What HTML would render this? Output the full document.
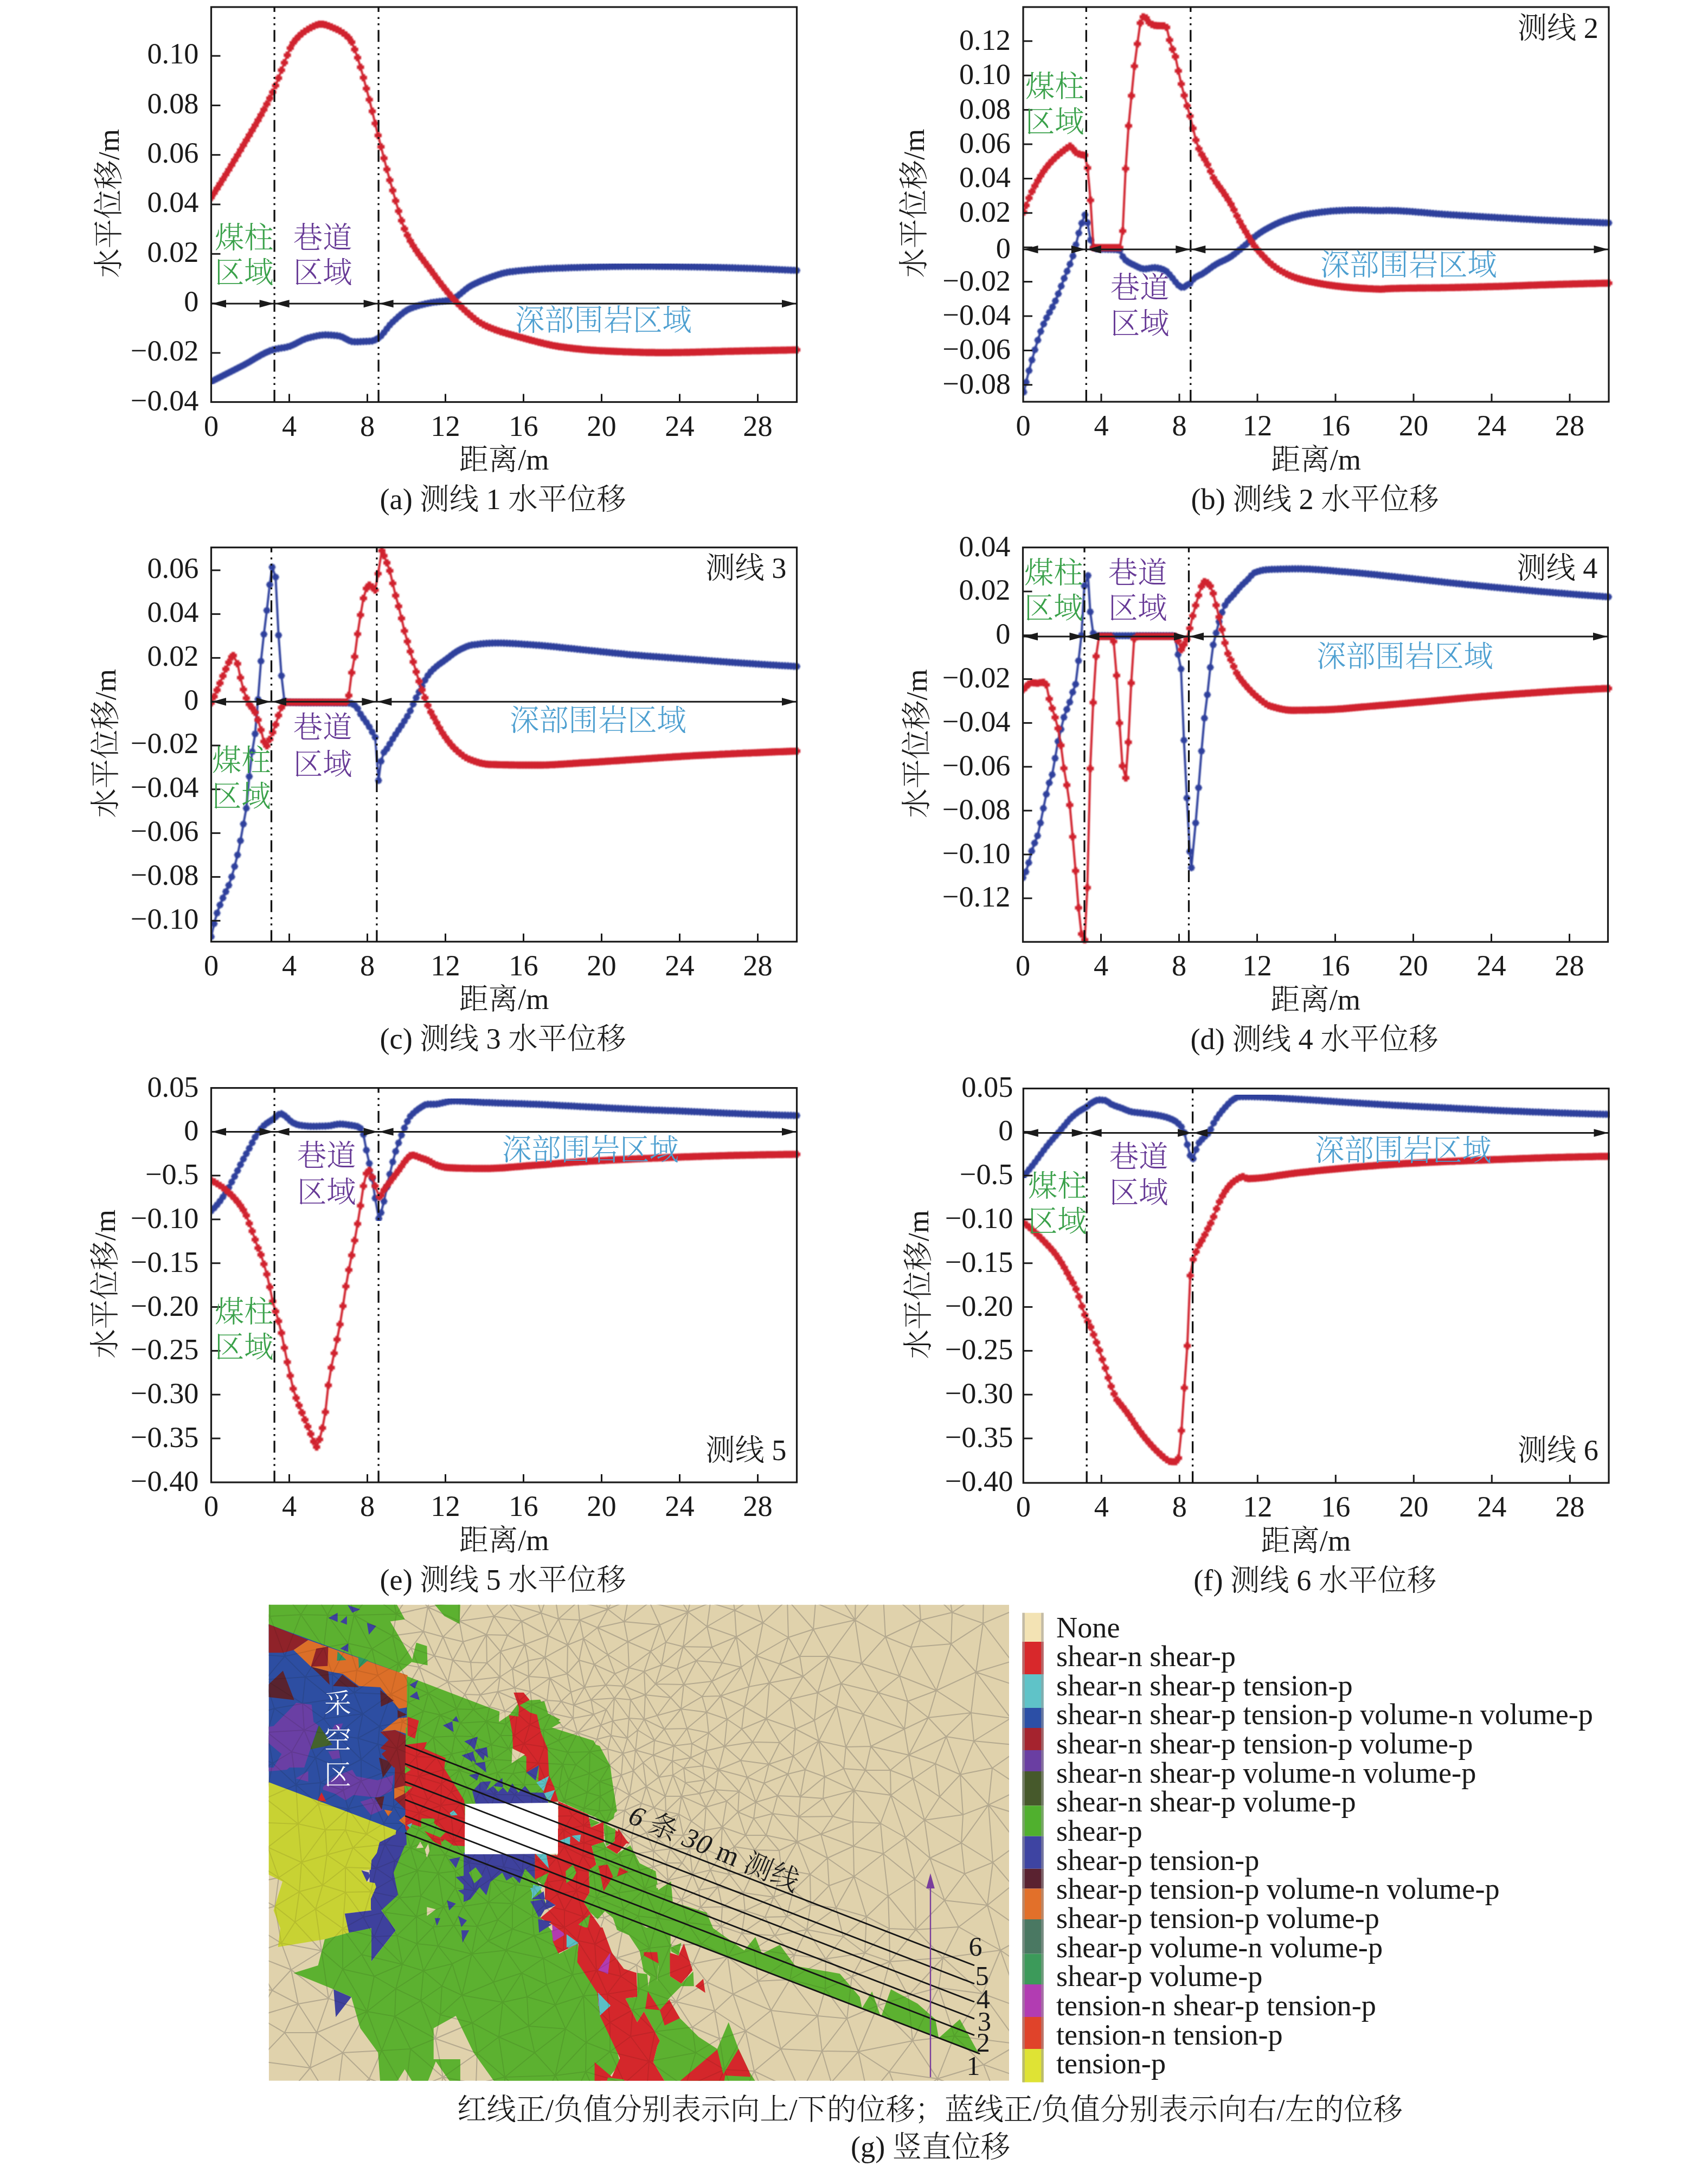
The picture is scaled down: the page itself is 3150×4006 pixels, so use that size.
<!DOCTYPE html>
<html lang="zh"><head><meta charset="utf-8"><title>figure</title>
<style>
html,body{margin:0;padding:0;background:#fff}
svg{display:block}
text{font-family:"Liberation Serif","Noto Serif CJK SC",serif;font-weight:300}
</style></head><body>
<svg width="3150" height="4006" viewBox="0 0 3150 4006">
<defs>
<marker id="mr" markerWidth="14" markerHeight="14" refX="7" refY="7" markerUnits="userSpaceOnUse" orient="0">
<path d="M7 0.4V13.6M0.4 7H13.6" stroke="#d0232e" stroke-width="6.4" fill="none"/></marker>
<marker id="mb" markerWidth="14" markerHeight="14" refX="7" refY="7" markerUnits="userSpaceOnUse" orient="0">
<path d="M7 0.4V13.6M0.6 7H13.4M2.6 2.6L11.4 11.4M11.4 2.6L2.6 11.4" stroke="#2f409c" stroke-width="3.6" fill="none"/></marker>
<filter id="bl" x="-2%" y="-2%" width="104%" height="104%"><feGaussianBlur stdDeviation="0.9"/></filter>
</defs>
<rect width="3150" height="4006" fill="#fff"/>

<clipPath id="cpa"><rect x="390.0" y="4.0" width="1091.0" height="746.5"/></clipPath>
<g clip-path="url(#cpa)">
<polyline points="389.5,703.8 394.9,701.1 400.3,698.4 405.7,695.6 411.1,692.9 416.5,690.1 421.9,687.4 427.3,684.7 432.7,681.9 438.1,679.2 443.5,676.4 448.9,673.6 454.3,670.7 459.7,667.6 465.1,664.4 470.5,661.2 475.9,658.0 481.3,654.9 486.7,652.1 492.1,649.5 497.5,647.2 502.9,645.3 508.3,643.8 513.7,642.8 519.1,641.9 524.5,641.1 529.9,639.9 535.3,638.3 540.7,636.0 546.1,633.3 551.5,630.5 556.9,627.7 562.3,625.3 567.7,623.5 573.1,622.1 578.5,620.8 583.9,619.7 589.3,618.7 594.7,618.0 600.1,617.7 605.5,617.8 610.9,618.1 616.3,618.6 621.7,619.2 627.1,620.1 632.5,622.2 637.9,625.0 643.3,627.8 648.7,629.8 654.1,630.3 659.5,630.3 664.9,630.1 670.3,629.9 675.7,629.7 681.1,629.3 686.5,628.8 691.9,626.9 697.3,623.8 702.7,619.6 708.1,613.4 713.5,606.3 718.9,599.5 724.3,593.9 729.7,588.9 735.1,583.9 740.5,579.3 745.9,575.1 751.3,571.7 756.7,569.0 762.1,566.9 767.5,565.1 772.9,563.4 778.3,562.0 783.7,560.7 789.1,559.5 794.5,558.4 799.9,557.5 805.3,556.8 810.7,556.2 816.1,555.6 821.5,554.8 826.9,553.9 832.3,552.6 837.7,550.1 843.1,546.6 848.5,542.3 853.9,537.8 859.3,533.3 864.7,529.4 870.1,526.2 875.5,523.4 880.9,520.8 886.3,518.4 891.7,516.2 897.1,514.2 902.5,512.2 907.9,510.2 913.3,508.3 918.7,506.5 924.1,504.9 929.5,503.5 934.9,502.3 940.3,501.4 945.7,500.8 951.1,500.1 956.5,499.5 961.9,499.0 967.3,498.5 972.7,498.0 978.1,497.5 983.5,497.1 988.9,496.7 994.3,496.3 999.7,496.0 1005.1,495.7 1010.5,495.4 1015.9,495.1 1021.3,494.9 1026.7,494.7 1032.1,494.5 1037.5,494.3 1042.9,494.1 1048.3,493.9 1053.7,493.7 1059.1,493.5 1064.5,493.3 1069.9,493.1 1075.3,492.9 1080.7,492.8 1086.1,492.6 1091.5,492.4 1096.9,492.3 1102.3,492.1 1107.7,492.0 1113.1,491.9 1118.5,491.8 1123.9,491.6 1129.3,491.5 1134.7,491.4 1140.1,491.4 1145.5,491.3 1150.9,491.2 1156.3,491.2 1161.7,491.1 1167.1,491.1 1172.5,491.1 1177.9,491.1 1183.3,491.1 1188.7,491.1 1194.1,491.2 1199.5,491.2 1204.9,491.2 1210.3,491.3 1215.7,491.3 1221.1,491.4 1226.5,491.5 1231.9,491.5 1237.3,491.6 1242.7,491.7 1248.1,491.7 1253.5,491.8 1258.9,491.9 1264.3,492.0 1269.7,492.1 1275.1,492.1 1280.5,492.2 1285.9,492.3 1291.3,492.4 1296.7,492.5 1302.1,492.6 1307.5,492.8 1312.9,492.9 1318.3,493.0 1323.7,493.2 1329.1,493.3 1334.5,493.5 1339.9,493.6 1345.3,493.8 1350.7,493.9 1356.1,494.1 1361.5,494.3 1366.9,494.5 1372.3,494.6 1377.7,494.8 1383.1,495.0 1388.5,495.2 1393.9,495.4 1399.3,495.7 1404.7,495.9 1410.1,496.1 1415.5,496.3 1420.9,496.5 1426.3,496.8 1431.7,497.0 1437.1,497.3 1442.5,497.5 1447.9,497.8 1453.3,498.0 1458.7,498.3 1464.1,498.5 1469.5,498.8" fill="none" stroke="#2f409c" stroke-width="4" stroke-linejoin="round" filter="url(#bl)" marker-start="url(#mb)" marker-mid="url(#mb)" marker-end="url(#mb)"/>
<polyline points="389.5,364.3 394.9,356.1 400.3,347.7 405.7,339.2 411.1,330.6 416.5,321.9 421.9,313.1 427.3,304.2 432.7,295.2 438.1,286.2 443.5,277.0 448.9,267.7 454.3,258.6 459.7,249.5 465.1,240.3 470.5,231.1 475.9,221.7 481.3,212.1 486.7,202.2 492.1,191.9 497.5,181.2 502.9,169.9 508.3,157.9 513.7,144.0 519.1,129.4 524.5,115.6 529.9,101.7 535.3,88.6 540.7,79.1 546.1,72.3 551.5,66.6 556.9,61.7 562.3,57.6 567.7,54.2 573.1,51.2 578.5,48.3 583.9,46.0 589.3,44.7 594.7,44.7 600.1,45.7 605.5,47.5 610.9,49.7 616.3,52.0 621.7,54.4 627.1,57.2 632.5,60.6 637.9,64.8 643.3,70.0 648.7,77.7 654.1,91.2 659.5,106.4 664.9,124.0 670.3,143.3 675.7,163.4 681.1,183.8 686.5,205.2 691.9,227.6 697.3,249.7 702.7,270.8 708.1,291.8 713.5,312.4 718.9,332.3 724.3,351.3 729.7,370.5 735.1,389.4 740.5,406.9 745.9,422.0 751.3,433.9 756.7,444.2 762.1,453.4 767.5,461.8 772.9,469.5 778.3,476.8 783.7,483.9 789.1,491.0 794.5,498.2 799.9,505.6 805.3,512.9 810.7,520.1 816.1,527.1 821.5,533.9 826.9,540.5 832.3,546.9 837.7,552.9 843.1,558.6 848.5,563.9 853.9,569.1 859.3,574.1 864.7,579.0 870.1,583.7 875.5,588.1 880.9,592.1 886.3,595.7 891.7,598.8 897.1,601.4 902.5,603.8 907.9,606.0 913.3,608.1 918.7,610.0 924.1,611.8 929.5,613.5 934.9,615.2 940.3,616.7 945.7,618.2 951.1,619.7 956.5,621.2 961.9,622.6 967.3,624.1 972.7,625.6 978.1,627.1 983.5,628.5 988.9,630.0 994.3,631.4 999.7,632.7 1005.1,634.0 1010.5,635.2 1015.9,636.4 1021.3,637.5 1026.7,638.4 1032.1,639.3 1037.5,640.0 1042.9,640.8 1048.3,641.5 1053.7,642.1 1059.1,642.8 1064.5,643.4 1069.9,643.9 1075.3,644.5 1080.7,645.0 1086.1,645.4 1091.5,645.8 1096.9,646.2 1102.3,646.5 1107.7,646.8 1113.1,647.0 1118.5,647.3 1123.9,647.6 1129.3,647.8 1134.7,648.1 1140.1,648.3 1145.5,648.5 1150.9,648.8 1156.3,649.0 1161.7,649.2 1167.1,649.4 1172.5,649.5 1177.9,649.7 1183.3,649.8 1188.7,650.0 1194.1,650.1 1199.5,650.2 1204.9,650.2 1210.3,650.3 1215.7,650.3 1221.1,650.4 1226.5,650.3 1231.9,650.3 1237.3,650.3 1242.7,650.2 1248.1,650.2 1253.5,650.1 1258.9,650.0 1264.3,649.9 1269.7,649.8 1275.1,649.7 1280.5,649.6 1285.9,649.4 1291.3,649.3 1296.7,649.2 1302.1,649.0 1307.5,648.9 1312.9,648.8 1318.3,648.6 1323.7,648.5 1329.1,648.3 1334.5,648.2 1339.9,648.0 1345.3,647.9 1350.7,647.8 1356.1,647.7 1361.5,647.6 1366.9,647.4 1372.3,647.3 1377.7,647.2 1383.1,647.1 1388.5,647.0 1393.9,646.9 1399.3,646.8 1404.7,646.7 1410.1,646.6 1415.5,646.4 1420.9,646.3 1426.3,646.2 1431.7,646.1 1437.1,646.0 1442.5,645.9 1447.9,645.8 1453.3,645.6 1458.7,645.5 1464.1,645.4 1469.5,645.3" fill="none" stroke="#d0232e" stroke-width="4" stroke-linejoin="round" filter="url(#bl)" marker-start="url(#mr)" marker-mid="url(#mr)" marker-end="url(#mr)"/>
</g>
<rect x="389.5" y="13.0" width="1080.0" height="728.5" fill="none" stroke="#1a1a1a" stroke-width="3.2"/>
<line x1="389.5" y1="103.1" x2="406.5" y2="103.1" stroke="#1a1a1a" stroke-width="3"/>
<text x="366.5" y="117.4" font-size="54.3" fill="#1a1a1a" text-anchor="end" >0.10</text>
<line x1="389.5" y1="194.4" x2="406.5" y2="194.4" stroke="#1a1a1a" stroke-width="3"/>
<text x="366.5" y="208.7" font-size="54.3" fill="#1a1a1a" text-anchor="end" >0.08</text>
<line x1="389.5" y1="285.7" x2="406.5" y2="285.7" stroke="#1a1a1a" stroke-width="3"/>
<text x="366.5" y="300.0" font-size="54.3" fill="#1a1a1a" text-anchor="end" >0.06</text>
<line x1="389.5" y1="377.0" x2="406.5" y2="377.0" stroke="#1a1a1a" stroke-width="3"/>
<text x="366.5" y="391.3" font-size="54.3" fill="#1a1a1a" text-anchor="end" >0.04</text>
<line x1="389.5" y1="468.3" x2="406.5" y2="468.3" stroke="#1a1a1a" stroke-width="3"/>
<text x="366.5" y="482.6" font-size="54.3" fill="#1a1a1a" text-anchor="end" >0.02</text>
<line x1="389.5" y1="559.6" x2="406.5" y2="559.6" stroke="#1a1a1a" stroke-width="3"/>
<text x="366.5" y="573.9" font-size="54.3" fill="#1a1a1a" text-anchor="end" >0</text>
<line x1="389.5" y1="650.9" x2="406.5" y2="650.9" stroke="#1a1a1a" stroke-width="3"/>
<text x="366.5" y="665.2" font-size="54.3" fill="#1a1a1a" text-anchor="end" >−0.02</text>
<text x="366.5" y="756.5" font-size="54.3" fill="#1a1a1a" text-anchor="end" >−0.04</text>
<text x="389.5" y="803.5" font-size="54.3" fill="#1a1a1a" text-anchor="middle" >0</text>
<line x1="533.5" y1="741.5" x2="533.5" y2="726.5" stroke="#1a1a1a" stroke-width="3"/>
<text x="533.5" y="803.5" font-size="54.3" fill="#1a1a1a" text-anchor="middle" >4</text>
<line x1="677.5" y1="741.5" x2="677.5" y2="726.5" stroke="#1a1a1a" stroke-width="3"/>
<text x="677.5" y="803.5" font-size="54.3" fill="#1a1a1a" text-anchor="middle" >8</text>
<line x1="821.5" y1="741.5" x2="821.5" y2="726.5" stroke="#1a1a1a" stroke-width="3"/>
<text x="821.5" y="803.5" font-size="54.3" fill="#1a1a1a" text-anchor="middle" >12</text>
<line x1="965.5" y1="741.5" x2="965.5" y2="726.5" stroke="#1a1a1a" stroke-width="3"/>
<text x="965.5" y="803.5" font-size="54.3" fill="#1a1a1a" text-anchor="middle" >16</text>
<line x1="1109.5" y1="741.5" x2="1109.5" y2="726.5" stroke="#1a1a1a" stroke-width="3"/>
<text x="1109.5" y="803.5" font-size="54.3" fill="#1a1a1a" text-anchor="middle" >20</text>
<line x1="1253.5" y1="741.5" x2="1253.5" y2="726.5" stroke="#1a1a1a" stroke-width="3"/>
<text x="1253.5" y="803.5" font-size="54.3" fill="#1a1a1a" text-anchor="middle" >24</text>
<line x1="1397.5" y1="741.5" x2="1397.5" y2="726.5" stroke="#1a1a1a" stroke-width="3"/>
<text x="1397.5" y="803.5" font-size="54.3" fill="#1a1a1a" text-anchor="middle" >28</text>
<line x1="506.1" y1="13.0" x2="506.1" y2="741.5" stroke="#111" stroke-width="3.3" stroke-dasharray="22 9.5 3.5 8 3.5 8.8" stroke-dashoffset="13"/>
<line x1="698.1" y1="13.0" x2="698.1" y2="741.5" stroke="#111" stroke-width="3.3" stroke-dasharray="22 9.5 3.5 8 3.5 8.8" stroke-dashoffset="13"/>
<line x1="389.5" y1="560.1" x2="1469.5" y2="560.1" stroke="#1a1a1a" stroke-width="3"/>
<path d="M390.5 560.1 L417.0 552.9 L417.0 567.3 Z" fill="#1a1a1a"/>
<path d="M505.1 560.1 L478.6 552.9 L478.6 567.3 Z" fill="#1a1a1a"/>
<path d="M507.1 560.1 L533.6 552.9 L533.6 567.3 Z" fill="#1a1a1a"/>
<path d="M697.1 560.1 L670.6 552.9 L670.6 567.3 Z" fill="#1a1a1a"/>
<path d="M699.1 560.1 L725.6 552.9 L725.6 567.3 Z" fill="#1a1a1a"/>
<path d="M1468.5 560.1 L1442.0 552.9 L1442.0 567.3 Z" fill="#1a1a1a"/>
<text x="929.5" y="866.0" font-size="54.3" fill="#1a1a1a" text-anchor="middle" >距离/m</text>
<text x="927.5" y="939.0" font-size="54.3" fill="#1a1a1a" text-anchor="middle" >(a) 测线 1 水平位移</text>
<text transform="translate(218.5,375.2) rotate(-90)" font-size="54.3" fill="#1a1a1a" text-anchor="middle">水平位移/m</text>
<text x="396.0" y="457.0" font-size="54.3" fill="#3aa14a" text-anchor="start" >煤柱</text>
<text x="396.0" y="521.0" font-size="54.3" fill="#3aa14a" text-anchor="start" >区域</text>
<text x="541.0" y="457.0" font-size="54.3" fill="#673a96" text-anchor="start" >巷道</text>
<text x="541.0" y="521.0" font-size="54.3" fill="#673a96" text-anchor="start" >区域</text>
<text x="950.0" y="609.0" font-size="54.3" fill="#4d9fd0" text-anchor="start" >深部围岩区域</text>
<clipPath id="cpb"><rect x="1887.5" y="4.0" width="1091.0" height="746.0"/></clipPath>
<g clip-path="url(#cpb)">
<polyline points="1888.1,723.2 1892.4,704.9 1897.8,683.6 1903.2,664.0 1908.6,645.2 1914.0,627.4 1919.4,611.3 1924.8,597.6 1930.2,586.2 1935.6,576.1 1941.0,566.2 1946.4,555.0 1951.8,541.9 1957.2,527.7 1962.6,513.4 1968.0,500.2 1973.4,487.2 1978.8,472.1 1984.2,451.5 1989.6,429.8 1995.0,411.7 2000.9,396.3 2005.8,410.9 2011.2,442.7 2016.6,456.4 2022.0,458.9 2027.4,459.3 2032.8,459.6 2038.2,459.7 2043.6,459.8 2049.0,459.9 2054.4,460.1 2059.8,460.5 2065.2,462.0 2070.6,473.2 2076.0,479.9 2081.4,483.7 2086.8,486.6 2092.2,489.2 2097.6,491.9 2103.0,494.4 2108.4,495.9 2113.8,495.8 2119.2,495.0 2124.6,494.0 2130.0,493.7 2135.4,494.3 2140.8,495.7 2146.2,497.6 2151.6,500.7 2157.0,506.5 2162.4,512.8 2167.8,519.8 2173.2,526.0 2178.6,529.7 2184.0,529.3 2189.4,525.6 2194.8,522.8 2200.2,515.6 2205.6,511.1 2211.0,508.2 2216.4,505.6 2221.8,502.2 2227.2,498.3 2232.6,494.3 2238.0,490.5 2243.4,487.1 2248.8,484.2 2254.2,481.7 2259.6,479.2 2265.0,476.4 2270.4,473.1 2275.8,469.1 2281.2,464.9 2286.6,460.5 2292.0,456.0 2297.4,451.3 2302.8,446.6 2308.2,441.8 2313.6,437.0 2319.0,432.8 2324.4,429.1 2329.8,425.7 2335.2,422.5 2340.6,419.5 2346.0,416.6 2351.4,413.9 2356.8,411.3 2362.2,409.0 2367.6,406.9 2373.0,405.0 2378.4,403.2 2383.8,401.5 2389.2,400.0 2394.6,398.5 2400.0,397.2 2405.4,396.0 2410.8,395.0 2416.2,394.1 2421.6,393.3 2427.0,392.6 2432.4,391.9 2437.8,391.2 2443.2,390.6 2448.6,390.0 2454.0,389.4 2459.4,389.0 2464.8,388.6 2470.2,388.3 2475.6,388.1 2481.0,387.9 2486.4,387.6 2491.8,387.5 2497.2,387.4 2502.6,387.4 2508.0,387.4 2513.4,387.6 2518.8,387.7 2524.2,387.9 2529.6,388.1 2535.0,388.3 2540.4,388.4 2545.8,388.5 2551.2,388.4 2556.6,388.1 2562.0,388.1 2567.4,388.3 2572.8,388.5 2578.2,388.7 2583.6,389.0 2589.0,389.3 2594.4,389.6 2599.8,390.0 2605.2,390.4 2610.6,390.8 2616.0,391.3 2621.4,391.7 2626.8,392.2 2632.2,392.7 2637.6,393.1 2643.0,393.6 2648.4,394.1 2653.8,394.5 2659.2,394.9 2664.6,395.3 2670.0,395.7 2675.4,396.1 2680.8,396.4 2686.2,396.7 2691.6,397.1 2697.0,397.4 2702.4,397.7 2707.8,398.1 2713.2,398.4 2718.6,398.7 2724.0,399.0 2729.4,399.4 2734.8,399.7 2740.2,400.0 2745.6,400.3 2751.0,400.6 2756.4,400.9 2761.8,401.3 2767.2,401.6 2772.6,401.9 2778.0,402.2 2783.4,402.5 2788.8,402.8 2794.2,403.1 2799.6,403.4 2805.0,403.8 2810.4,404.1 2815.8,404.4 2821.2,404.7 2826.6,405.0 2832.0,405.3 2837.4,405.6 2842.8,405.8 2848.2,406.1 2853.6,406.4 2859.0,406.6 2864.4,406.9 2869.8,407.2 2875.2,407.4 2880.6,407.6 2886.0,407.9 2891.4,408.1 2896.8,408.4 2902.2,408.6 2907.6,408.8 2913.0,409.1 2918.4,409.3 2923.8,409.5 2929.2,409.7 2934.6,409.9 2940.0,410.2 2945.4,410.4 2950.8,410.6 2956.2,410.8 2961.6,411.0 2967.0,411.1" fill="none" stroke="#2f409c" stroke-width="4" stroke-linejoin="round" filter="url(#bl)" marker-start="url(#mb)" marker-mid="url(#mb)" marker-end="url(#mb)"/>
<polyline points="1888.1,391.1 1892.4,378.9 1897.8,365.2 1903.2,353.3 1908.6,342.9 1914.0,333.2 1919.4,324.1 1924.8,315.7 1930.2,308.4 1935.6,301.9 1941.0,296.0 1946.4,290.6 1951.8,285.7 1957.2,281.2 1962.6,277.0 1968.0,272.6 1973.4,269.3 1978.8,274.5 1984.2,281.1 1989.6,283.8 1995.0,285.5 2000.4,286.3 2005.8,309.8 2011.2,369.4 2016.6,456.7 2022.0,456.7 2027.4,456.7 2032.8,456.7 2038.2,456.7 2043.6,456.7 2049.0,456.7 2054.4,456.7 2059.8,456.7 2065.2,456.7 2070.6,426.1 2076.0,311.1 2081.4,232.1 2086.8,176.5 2092.2,122.1 2097.6,81.0 2103.0,42.5 2108.4,31.2 2113.8,33.2 2119.2,41.5 2124.6,45.2 2130.0,46.9 2135.4,47.3 2140.8,47.5 2146.2,47.7 2151.6,50.5 2157.0,73.8 2162.4,90.8 2167.8,104.5 2173.2,130.8 2178.6,154.9 2184.0,176.0 2189.4,195.3 2194.8,214.1 2200.2,236.6 2205.6,258.4 2211.0,274.4 2216.4,285.0 2221.8,293.9 2227.2,303.6 2232.6,315.9 2238.0,328.1 2243.4,337.0 2248.8,344.4 2254.2,351.7 2259.6,359.7 2265.0,368.0 2270.4,376.8 2275.8,386.9 2281.2,398.1 2286.6,408.7 2292.0,418.3 2297.4,427.4 2302.8,436.3 2308.2,445.4 2313.6,453.7 2319.0,460.5 2324.4,466.6 2329.8,472.5 2335.2,478.2 2340.6,483.6 2346.0,488.2 2351.4,492.4 2356.8,496.1 2362.2,499.5 2367.6,502.5 2373.0,505.4 2378.4,507.9 2383.8,510.2 2389.2,512.1 2394.6,513.8 2400.0,515.4 2405.4,516.8 2410.8,518.1 2416.2,519.3 2421.6,520.5 2427.0,521.6 2432.4,522.6 2437.8,523.6 2443.2,524.5 2448.6,525.3 2454.0,526.1 2459.4,526.9 2464.8,527.6 2470.2,528.2 2475.6,528.8 2481.0,529.4 2486.4,529.9 2491.8,530.4 2497.2,530.8 2502.6,531.2 2508.0,531.6 2513.4,531.9 2518.8,532.2 2524.2,532.5 2529.6,532.7 2535.0,533.0 2540.4,533.1 2545.8,533.3 2551.2,533.1 2556.6,532.6 2562.0,532.4 2567.4,532.2 2572.8,532.0 2578.2,531.9 2583.6,531.7 2589.0,531.6 2594.4,531.5 2599.8,531.4 2605.2,531.4 2610.6,531.3 2616.0,531.2 2621.4,531.2 2626.8,531.1 2632.2,531.0 2637.6,531.0 2643.0,530.9 2648.4,530.9 2653.8,530.8 2659.2,530.7 2664.6,530.6 2670.0,530.5 2675.4,530.4 2680.8,530.3 2686.2,530.2 2691.6,530.1 2697.0,529.9 2702.4,529.8 2707.8,529.7 2713.2,529.6 2718.6,529.4 2724.0,529.3 2729.4,529.2 2734.8,529.0 2740.2,528.9 2745.6,528.7 2751.0,528.6 2756.4,528.4 2761.8,528.3 2767.2,528.1 2772.6,528.0 2778.0,527.8 2783.4,527.6 2788.8,527.4 2794.2,527.2 2799.6,527.0 2805.0,526.8 2810.4,526.6 2815.8,526.4 2821.2,526.2 2826.6,526.0 2832.0,525.8 2837.4,525.6 2842.8,525.4 2848.2,525.3 2853.6,525.1 2859.0,524.9 2864.4,524.8 2869.8,524.6 2875.2,524.4 2880.6,524.3 2886.0,524.1 2891.4,524.0 2896.8,523.9 2902.2,523.7 2907.6,523.6 2913.0,523.4 2918.4,523.3 2923.8,523.2 2929.2,523.0 2934.6,522.9 2940.0,522.8 2945.4,522.7 2950.8,522.5 2956.2,522.4 2961.6,522.3 2967.0,522.2" fill="none" stroke="#d0232e" stroke-width="4" stroke-linejoin="round" filter="url(#bl)" marker-start="url(#mr)" marker-mid="url(#mr)" marker-end="url(#mr)"/>
</g>
<rect x="1887.0" y="13.0" width="1080.0" height="728.0" fill="none" stroke="#1a1a1a" stroke-width="3.2"/>
<line x1="1887.0" y1="75.8" x2="1904.0" y2="75.8" stroke="#1a1a1a" stroke-width="3"/>
<text x="1864.0" y="91.8" font-size="54.3" fill="#1a1a1a" text-anchor="end" >0.12</text>
<line x1="1887.0" y1="139.2" x2="1904.0" y2="139.2" stroke="#1a1a1a" stroke-width="3"/>
<text x="1864.0" y="155.2" font-size="54.3" fill="#1a1a1a" text-anchor="end" >0.10</text>
<line x1="1887.0" y1="202.6" x2="1904.0" y2="202.6" stroke="#1a1a1a" stroke-width="3"/>
<text x="1864.0" y="218.6" font-size="54.3" fill="#1a1a1a" text-anchor="end" >0.08</text>
<line x1="1887.0" y1="266.0" x2="1904.0" y2="266.0" stroke="#1a1a1a" stroke-width="3"/>
<text x="1864.0" y="282.0" font-size="54.3" fill="#1a1a1a" text-anchor="end" >0.06</text>
<line x1="1887.0" y1="329.4" x2="1904.0" y2="329.4" stroke="#1a1a1a" stroke-width="3"/>
<text x="1864.0" y="345.4" font-size="54.3" fill="#1a1a1a" text-anchor="end" >0.04</text>
<line x1="1887.0" y1="392.8" x2="1904.0" y2="392.8" stroke="#1a1a1a" stroke-width="3"/>
<text x="1864.0" y="408.8" font-size="54.3" fill="#1a1a1a" text-anchor="end" >0.02</text>
<line x1="1887.0" y1="456.2" x2="1904.0" y2="456.2" stroke="#1a1a1a" stroke-width="3"/>
<text x="1864.0" y="476.0" font-size="54.3" fill="#1a1a1a" text-anchor="end" >0</text>
<line x1="1887.0" y1="519.6" x2="1904.0" y2="519.6" stroke="#1a1a1a" stroke-width="3"/>
<text x="1864.0" y="535.6" font-size="54.3" fill="#1a1a1a" text-anchor="end" >−0.02</text>
<line x1="1887.0" y1="583.0" x2="1904.0" y2="583.0" stroke="#1a1a1a" stroke-width="3"/>
<text x="1864.0" y="599.0" font-size="54.3" fill="#1a1a1a" text-anchor="end" >−0.04</text>
<line x1="1887.0" y1="646.4" x2="1904.0" y2="646.4" stroke="#1a1a1a" stroke-width="3"/>
<text x="1864.0" y="662.4" font-size="54.3" fill="#1a1a1a" text-anchor="end" >−0.06</text>
<line x1="1887.0" y1="709.8" x2="1904.0" y2="709.8" stroke="#1a1a1a" stroke-width="3"/>
<text x="1864.0" y="725.8" font-size="54.3" fill="#1a1a1a" text-anchor="end" >−0.08</text>
<text x="1887.0" y="803.0" font-size="54.3" fill="#1a1a1a" text-anchor="middle" >0</text>
<line x1="2031.0" y1="741.0" x2="2031.0" y2="726.0" stroke="#1a1a1a" stroke-width="3"/>
<text x="2031.0" y="803.0" font-size="54.3" fill="#1a1a1a" text-anchor="middle" >4</text>
<line x1="2175.0" y1="741.0" x2="2175.0" y2="726.0" stroke="#1a1a1a" stroke-width="3"/>
<text x="2175.0" y="803.0" font-size="54.3" fill="#1a1a1a" text-anchor="middle" >8</text>
<line x1="2319.0" y1="741.0" x2="2319.0" y2="726.0" stroke="#1a1a1a" stroke-width="3"/>
<text x="2319.0" y="803.0" font-size="54.3" fill="#1a1a1a" text-anchor="middle" >12</text>
<line x1="2463.0" y1="741.0" x2="2463.0" y2="726.0" stroke="#1a1a1a" stroke-width="3"/>
<text x="2463.0" y="803.0" font-size="54.3" fill="#1a1a1a" text-anchor="middle" >16</text>
<line x1="2607.0" y1="741.0" x2="2607.0" y2="726.0" stroke="#1a1a1a" stroke-width="3"/>
<text x="2607.0" y="803.0" font-size="54.3" fill="#1a1a1a" text-anchor="middle" >20</text>
<line x1="2751.0" y1="741.0" x2="2751.0" y2="726.0" stroke="#1a1a1a" stroke-width="3"/>
<text x="2751.0" y="803.0" font-size="54.3" fill="#1a1a1a" text-anchor="middle" >24</text>
<line x1="2895.0" y1="741.0" x2="2895.0" y2="726.0" stroke="#1a1a1a" stroke-width="3"/>
<text x="2895.0" y="803.0" font-size="54.3" fill="#1a1a1a" text-anchor="middle" >28</text>
<line x1="2003.3" y1="13.0" x2="2003.3" y2="741.0" stroke="#111" stroke-width="3.3" stroke-dasharray="22 9.5 3.5 8 3.5 8.8" stroke-dashoffset="13"/>
<line x1="2195.8" y1="13.0" x2="2195.8" y2="741.0" stroke="#111" stroke-width="3.3" stroke-dasharray="22 9.5 3.5 8 3.5 8.8" stroke-dashoffset="13"/>
<line x1="1887.0" y1="460.0" x2="2967.0" y2="460.0" stroke="#1a1a1a" stroke-width="3"/>
<path d="M1888.0 460.0 L1914.5 452.8 L1914.5 467.2 Z" fill="#1a1a1a"/>
<path d="M2002.3 460.0 L1975.8 452.8 L1975.8 467.2 Z" fill="#1a1a1a"/>
<path d="M2004.3 460.0 L2030.8 452.8 L2030.8 467.2 Z" fill="#1a1a1a"/>
<path d="M2194.8 460.0 L2168.3 452.8 L2168.3 467.2 Z" fill="#1a1a1a"/>
<path d="M2196.8 460.0 L2223.3 452.8 L2223.3 467.2 Z" fill="#1a1a1a"/>
<path d="M2966.0 460.0 L2939.5 452.8 L2939.5 467.2 Z" fill="#1a1a1a"/>
<text x="2427.0" y="865.5" font-size="54.3" fill="#1a1a1a" text-anchor="middle" >距离/m</text>
<text x="2425.0" y="938.5" font-size="54.3" fill="#1a1a1a" text-anchor="middle" >(b) 测线 2 水平位移</text>
<text transform="translate(1703.6,375.0) rotate(-90)" font-size="54.3" fill="#1a1a1a" text-anchor="middle">水平位移/m</text>
<text x="2948.0" y="70.0" font-size="54.3" fill="#1a1a1a" text-anchor="end" >测线 2</text>
<text x="1891.0" y="178.0" font-size="54.3" fill="#3aa14a" text-anchor="start" >煤柱</text>
<text x="1891.0" y="243.0" font-size="54.3" fill="#3aa14a" text-anchor="start" >区域</text>
<text x="2048.0" y="549.0" font-size="54.3" fill="#673a96" text-anchor="start" >巷道</text>
<text x="2048.0" y="615.0" font-size="54.3" fill="#673a96" text-anchor="start" >区域</text>
<text x="2435.0" y="507.0" font-size="54.3" fill="#4d9fd0" text-anchor="start" >深部围岩区域</text>
<clipPath id="cpc"><rect x="390.0" y="1000.7" width="1091.0" height="745.1"/></clipPath>
<g clip-path="url(#cpc)">
<polyline points="389.5,1727.7 394.9,1703.6 400.3,1684.0 405.7,1669.1 411.1,1656.2 416.5,1644.5 421.9,1632.8 427.3,1617.2 432.7,1598.1 438.1,1576.8 443.5,1550.6 448.9,1519.8 454.3,1490.7 459.7,1432.1 465.1,1386.5 470.5,1353.5 475.9,1289.9 481.3,1219.4 486.7,1169.8 492.1,1125.9 497.5,1078.4 501.9,1046.0 508.3,1064.4 513.7,1171.6 519.1,1246.3 524.5,1292.5 529.9,1295.1 535.3,1295.3 540.7,1295.5 546.1,1295.6 551.5,1295.7 556.9,1295.8 562.3,1295.8 567.7,1295.9 573.1,1295.9 578.5,1295.9 583.9,1295.9 589.3,1295.9 594.7,1295.9 600.1,1296.0 605.5,1296.0 610.9,1296.0 616.3,1296.1 621.7,1296.1 627.1,1296.2 632.5,1296.3 637.9,1296.4 643.3,1296.6 648.7,1297.9 654.1,1300.7 659.5,1306.9 664.9,1317.0 670.3,1325.0 675.7,1332.3 681.1,1340.7 686.5,1350.2 691.9,1359.9 698.1,1439.5 702.7,1404.1 708.1,1387.7 713.5,1381.0 718.9,1372.1 724.3,1362.9 729.7,1354.3 735.1,1346.3 740.5,1338.3 745.9,1329.8 751.3,1321.0 756.7,1311.1 762.1,1298.7 767.5,1287.0 772.9,1276.3 778.3,1265.3 783.7,1254.7 789.1,1245.9 794.5,1239.0 799.9,1233.6 805.3,1228.9 810.7,1224.7 816.1,1220.8 821.5,1216.9 826.9,1212.8 832.3,1208.7 837.7,1204.7 843.1,1201.1 848.5,1198.2 853.9,1195.5 859.3,1193.0 864.7,1191.0 870.1,1189.7 875.5,1189.0 880.9,1188.3 886.3,1187.7 891.7,1187.2 897.1,1186.7 902.5,1186.4 907.9,1186.1 913.3,1186.0 918.7,1186.0 924.1,1186.0 929.5,1186.1 934.9,1186.3 940.3,1186.6 945.7,1186.8 951.1,1187.1 956.5,1187.5 961.9,1187.9 967.3,1188.3 972.7,1188.6 978.1,1189.0 983.5,1189.4 988.9,1189.8 994.3,1190.2 999.7,1190.6 1005.1,1191.1 1010.5,1191.6 1015.9,1192.1 1021.3,1192.7 1026.7,1193.2 1032.1,1193.8 1037.5,1194.4 1042.9,1195.0 1048.3,1195.6 1053.7,1196.2 1059.1,1196.7 1064.5,1197.3 1069.9,1197.9 1075.3,1198.5 1080.7,1199.0 1086.1,1199.6 1091.5,1200.1 1096.9,1200.7 1102.3,1201.2 1107.7,1201.8 1113.1,1202.4 1118.5,1202.9 1123.9,1203.5 1129.3,1204.1 1134.7,1204.6 1140.1,1205.2 1145.5,1205.7 1150.9,1206.2 1156.3,1206.8 1161.7,1207.3 1167.1,1207.8 1172.5,1208.2 1177.9,1208.7 1183.3,1209.2 1188.7,1209.6 1194.1,1210.0 1199.5,1210.4 1204.9,1210.8 1210.3,1211.2 1215.7,1211.6 1221.1,1212.0 1226.5,1212.4 1231.9,1212.8 1237.3,1213.2 1242.7,1213.6 1248.1,1214.0 1253.5,1214.4 1258.9,1214.8 1264.3,1215.2 1269.7,1215.6 1275.1,1216.0 1280.5,1216.4 1285.9,1216.8 1291.3,1217.2 1296.7,1217.6 1302.1,1218.0 1307.5,1218.5 1312.9,1218.9 1318.3,1219.3 1323.7,1219.7 1329.1,1220.1 1334.5,1220.5 1339.9,1220.9 1345.3,1221.3 1350.7,1221.7 1356.1,1222.1 1361.5,1222.4 1366.9,1222.8 1372.3,1223.2 1377.7,1223.5 1383.1,1223.9 1388.5,1224.2 1393.9,1224.6 1399.3,1224.9 1404.7,1225.3 1410.1,1225.6 1415.5,1226.0 1420.9,1226.3 1426.3,1226.6 1431.7,1226.9 1437.1,1227.3 1442.5,1227.6 1447.9,1227.9 1453.3,1228.2 1458.7,1228.5 1464.1,1228.8 1469.5,1229.1" fill="none" stroke="#2f409c" stroke-width="4" stroke-linejoin="round" filter="url(#bl)" marker-start="url(#mb)" marker-mid="url(#mb)" marker-end="url(#mb)"/>
<polyline points="389.5,1296.5 394.9,1284.8 400.3,1272.7 405.7,1260.0 411.1,1246.8 416.5,1234.0 421.9,1221.7 427.3,1211.6 430.2,1209.0 438.1,1224.2 443.5,1249.9 448.9,1271.6 454.3,1287.6 459.7,1299.0 465.1,1305.9 470.5,1313.9 475.9,1327.7 481.3,1346.2 486.7,1367.6 492.1,1375.7 497.5,1363.6 502.9,1350.8 508.3,1336.5 513.7,1319.5 519.1,1305.0 524.5,1296.4 529.9,1295.2 535.3,1295.2 540.7,1295.2 546.1,1295.2 551.5,1295.2 556.9,1295.2 562.3,1295.2 567.7,1295.2 573.1,1295.2 578.5,1295.2 583.9,1295.2 589.3,1295.2 594.7,1295.2 600.1,1295.2 605.5,1295.2 610.9,1295.2 616.3,1295.2 621.7,1295.2 627.1,1295.2 632.5,1295.2 637.9,1295.2 643.3,1282.7 648.7,1240.6 654.1,1211.2 659.5,1169.4 664.9,1134.2 670.3,1103.5 675.7,1085.4 681.1,1079.0 686.5,1082.5 691.9,1088.4 697.3,1058.1 704.2,1015.6 708.1,1025.0 713.5,1038.0 718.9,1052.8 724.3,1075.9 729.7,1098.5 735.1,1118.3 740.5,1140.5 745.9,1163.6 751.3,1183.1 756.7,1201.6 762.1,1220.7 767.5,1239.1 772.9,1256.7 778.3,1272.4 783.7,1286.9 789.1,1301.0 794.5,1313.3 799.9,1323.0 805.3,1332.9 810.7,1342.8 816.1,1352.0 821.5,1359.9 826.9,1367.2 832.3,1373.9 837.7,1379.8 843.1,1384.9 848.5,1389.5 853.9,1393.8 859.3,1397.4 864.7,1400.1 870.1,1402.2 875.5,1404.1 880.9,1405.8 886.3,1407.3 891.7,1408.5 897.1,1409.4 902.5,1409.8 907.9,1410.0 913.3,1410.2 918.7,1410.3 924.1,1410.5 929.5,1410.6 934.9,1410.7 940.3,1410.8 945.7,1410.9 951.1,1411.0 956.5,1411.1 961.9,1411.1 967.3,1411.2 972.7,1411.2 978.1,1411.2 983.5,1411.2 988.9,1411.2 994.3,1411.2 999.7,1411.1 1005.1,1411.0 1010.5,1410.8 1015.9,1410.5 1021.3,1410.3 1026.7,1410.0 1032.1,1409.7 1037.5,1409.4 1042.9,1409.0 1048.3,1408.7 1053.7,1408.3 1059.1,1407.9 1064.5,1407.6 1069.9,1407.2 1075.3,1406.9 1080.7,1406.6 1086.1,1406.3 1091.5,1405.9 1096.9,1405.6 1102.3,1405.3 1107.7,1404.9 1113.1,1404.6 1118.5,1404.2 1123.9,1403.9 1129.3,1403.5 1134.7,1403.2 1140.1,1402.8 1145.5,1402.4 1150.9,1402.1 1156.3,1401.7 1161.7,1401.3 1167.1,1401.0 1172.5,1400.6 1177.9,1400.3 1183.3,1399.9 1188.7,1399.5 1194.1,1399.2 1199.5,1398.8 1204.9,1398.4 1210.3,1398.1 1215.7,1397.7 1221.1,1397.4 1226.5,1397.0 1231.9,1396.6 1237.3,1396.3 1242.7,1395.9 1248.1,1395.6 1253.5,1395.3 1258.9,1394.9 1264.3,1394.6 1269.7,1394.3 1275.1,1394.0 1280.5,1393.7 1285.9,1393.4 1291.3,1393.1 1296.7,1392.8 1302.1,1392.6 1307.5,1392.3 1312.9,1392.0 1318.3,1391.8 1323.7,1391.5 1329.1,1391.2 1334.5,1391.0 1339.9,1390.7 1345.3,1390.5 1350.7,1390.2 1356.1,1390.0 1361.5,1389.7 1366.9,1389.5 1372.3,1389.2 1377.7,1389.0 1383.1,1388.8 1388.5,1388.5 1393.9,1388.3 1399.3,1388.1 1404.7,1387.8 1410.1,1387.6 1415.5,1387.4 1420.9,1387.2 1426.3,1386.9 1431.7,1386.7 1437.1,1386.5 1442.5,1386.3 1447.9,1386.1 1453.3,1385.9 1458.7,1385.7 1464.1,1385.5 1469.5,1385.3" fill="none" stroke="#d0232e" stroke-width="4" stroke-linejoin="round" filter="url(#bl)" marker-start="url(#mr)" marker-mid="url(#mr)" marker-end="url(#mr)"/>
</g>
<rect x="389.5" y="1009.7" width="1080.0" height="727.1" fill="none" stroke="#1a1a1a" stroke-width="3.2"/>
<line x1="389.5" y1="1051.8" x2="406.5" y2="1051.8" stroke="#1a1a1a" stroke-width="3"/>
<text x="366.5" y="1066.1" font-size="54.3" fill="#1a1a1a" text-anchor="end" >0.06</text>
<line x1="389.5" y1="1132.6" x2="406.5" y2="1132.6" stroke="#1a1a1a" stroke-width="3"/>
<text x="366.5" y="1146.9" font-size="54.3" fill="#1a1a1a" text-anchor="end" >0.04</text>
<line x1="389.5" y1="1213.4" x2="406.5" y2="1213.4" stroke="#1a1a1a" stroke-width="3"/>
<text x="366.5" y="1227.7" font-size="54.3" fill="#1a1a1a" text-anchor="end" >0.02</text>
<line x1="389.5" y1="1294.2" x2="406.5" y2="1294.2" stroke="#1a1a1a" stroke-width="3"/>
<text x="366.5" y="1308.5" font-size="54.3" fill="#1a1a1a" text-anchor="end" >0</text>
<line x1="389.5" y1="1375.0" x2="406.5" y2="1375.0" stroke="#1a1a1a" stroke-width="3"/>
<text x="366.5" y="1389.3" font-size="54.3" fill="#1a1a1a" text-anchor="end" >−0.02</text>
<line x1="389.5" y1="1455.8" x2="406.5" y2="1455.8" stroke="#1a1a1a" stroke-width="3"/>
<text x="366.5" y="1470.1" font-size="54.3" fill="#1a1a1a" text-anchor="end" >−0.04</text>
<line x1="389.5" y1="1536.6" x2="406.5" y2="1536.6" stroke="#1a1a1a" stroke-width="3"/>
<text x="366.5" y="1550.9" font-size="54.3" fill="#1a1a1a" text-anchor="end" >−0.06</text>
<line x1="389.5" y1="1617.4" x2="406.5" y2="1617.4" stroke="#1a1a1a" stroke-width="3"/>
<text x="366.5" y="1631.7" font-size="54.3" fill="#1a1a1a" text-anchor="end" >−0.08</text>
<line x1="389.5" y1="1698.2" x2="406.5" y2="1698.2" stroke="#1a1a1a" stroke-width="3"/>
<text x="366.5" y="1712.5" font-size="54.3" fill="#1a1a1a" text-anchor="end" >−0.10</text>
<text x="389.5" y="1798.8" font-size="54.3" fill="#1a1a1a" text-anchor="middle" >0</text>
<line x1="533.5" y1="1736.8" x2="533.5" y2="1721.8" stroke="#1a1a1a" stroke-width="3"/>
<text x="533.5" y="1798.8" font-size="54.3" fill="#1a1a1a" text-anchor="middle" >4</text>
<line x1="677.5" y1="1736.8" x2="677.5" y2="1721.8" stroke="#1a1a1a" stroke-width="3"/>
<text x="677.5" y="1798.8" font-size="54.3" fill="#1a1a1a" text-anchor="middle" >8</text>
<line x1="821.5" y1="1736.8" x2="821.5" y2="1721.8" stroke="#1a1a1a" stroke-width="3"/>
<text x="821.5" y="1798.8" font-size="54.3" fill="#1a1a1a" text-anchor="middle" >12</text>
<line x1="965.5" y1="1736.8" x2="965.5" y2="1721.8" stroke="#1a1a1a" stroke-width="3"/>
<text x="965.5" y="1798.8" font-size="54.3" fill="#1a1a1a" text-anchor="middle" >16</text>
<line x1="1109.5" y1="1736.8" x2="1109.5" y2="1721.8" stroke="#1a1a1a" stroke-width="3"/>
<text x="1109.5" y="1798.8" font-size="54.3" fill="#1a1a1a" text-anchor="middle" >20</text>
<line x1="1253.5" y1="1736.8" x2="1253.5" y2="1721.8" stroke="#1a1a1a" stroke-width="3"/>
<text x="1253.5" y="1798.8" font-size="54.3" fill="#1a1a1a" text-anchor="middle" >24</text>
<line x1="1397.5" y1="1736.8" x2="1397.5" y2="1721.8" stroke="#1a1a1a" stroke-width="3"/>
<text x="1397.5" y="1798.8" font-size="54.3" fill="#1a1a1a" text-anchor="middle" >28</text>
<line x1="500.5" y1="1009.7" x2="500.5" y2="1736.8" stroke="#111" stroke-width="3.3" stroke-dasharray="22 9.5 3.5 8 3.5 8.8" stroke-dashoffset="13"/>
<line x1="694.9" y1="1009.7" x2="694.9" y2="1736.8" stroke="#111" stroke-width="3.3" stroke-dasharray="22 9.5 3.5 8 3.5 8.8" stroke-dashoffset="13"/>
<line x1="389.5" y1="1294.2" x2="1469.5" y2="1294.2" stroke="#1a1a1a" stroke-width="3"/>
<path d="M390.5 1294.2 L417.0 1287.0 L417.0 1301.4 Z" fill="#1a1a1a"/>
<path d="M499.5 1294.2 L473.0 1287.0 L473.0 1301.4 Z" fill="#1a1a1a"/>
<path d="M501.5 1294.2 L528.0 1287.0 L528.0 1301.4 Z" fill="#1a1a1a"/>
<path d="M693.9 1294.2 L667.4 1287.0 L667.4 1301.4 Z" fill="#1a1a1a"/>
<path d="M695.9 1294.2 L722.4 1287.0 L722.4 1301.4 Z" fill="#1a1a1a"/>
<path d="M1468.5 1294.2 L1442.0 1287.0 L1442.0 1301.4 Z" fill="#1a1a1a"/>
<text x="929.5" y="1861.3" font-size="54.3" fill="#1a1a1a" text-anchor="middle" >距离/m</text>
<text x="927.5" y="1934.3" font-size="54.3" fill="#1a1a1a" text-anchor="middle" >(c) 测线 3 水平位移</text>
<text transform="translate(212.5,1371.2) rotate(-90)" font-size="54.3" fill="#1a1a1a" text-anchor="middle">水平位移/m</text>
<text x="1450.5" y="1066.0" font-size="54.3" fill="#1a1a1a" text-anchor="end" >测线 3</text>
<text x="391.0" y="1421.0" font-size="54.3" fill="#3aa14a" text-anchor="start" >煤柱</text>
<text x="391.0" y="1487.0" font-size="54.3" fill="#3aa14a" text-anchor="start" >区域</text>
<text x="541.0" y="1360.0" font-size="54.3" fill="#673a96" text-anchor="start" >巷道</text>
<text x="541.0" y="1428.0" font-size="54.3" fill="#673a96" text-anchor="start" >区域</text>
<text x="940.0" y="1347.0" font-size="54.3" fill="#4d9fd0" text-anchor="start" >深部围岩区域</text>
<clipPath id="cpd"><rect x="1887.0" y="1000.7" width="1090.0" height="745.5"/></clipPath>
<g clip-path="url(#cpd)">
<polyline points="1886.5,1618.9 1891.9,1608.0 1897.3,1591.2 1902.7,1569.7 1908.1,1554.9 1913.5,1541.5 1918.9,1517.8 1924.3,1490.8 1929.7,1464.9 1935.1,1443.9 1940.5,1428.7 1945.9,1398.5 1951.3,1367.4 1956.7,1345.1 1962.1,1323.0 1967.5,1308.4 1972.9,1295.0 1978.3,1276.7 1983.7,1261.9 1989.1,1218.6 1994.5,1171.7 1999.9,1080.5 2006.6,1061.5 2010.7,1128.5 2016.1,1167.8 2021.5,1172.1 2026.9,1172.5 2032.3,1172.5 2037.7,1172.5 2043.1,1172.5 2048.5,1172.5 2053.9,1172.5 2059.3,1172.5 2064.7,1172.5 2070.1,1172.5 2075.5,1172.5 2080.9,1172.5 2086.3,1172.5 2091.7,1172.5 2097.1,1172.5 2102.5,1172.5 2107.9,1172.5 2113.3,1172.5 2118.7,1172.5 2124.1,1172.5 2129.5,1172.5 2134.9,1172.5 2140.3,1172.5 2145.7,1172.5 2151.1,1172.5 2156.5,1172.5 2161.9,1172.5 2167.3,1173.8 2172.7,1207.2 2178.1,1233.8 2183.5,1365.2 2188.9,1471.9 2194.3,1570.6 2197.2,1600.5 2205.1,1517.9 2210.5,1452.9 2215.9,1385.3 2221.3,1324.6 2226.7,1281.4 2232.1,1230.9 2237.5,1189.3 2242.9,1167.5 2248.3,1146.5 2253.7,1129.6 2259.1,1116.3 2264.5,1108.2 2269.9,1102.4 2275.3,1096.6 2280.7,1090.1 2286.1,1083.8 2291.5,1078.2 2296.9,1073.2 2302.3,1067.8 2307.7,1061.5 2313.1,1056.7 2318.5,1054.5 2323.9,1052.8 2329.3,1051.6 2334.7,1050.8 2340.1,1050.5 2345.5,1050.2 2350.9,1050.0 2356.3,1049.8 2361.7,1049.6 2367.1,1049.5 2372.5,1049.4 2377.9,1049.3 2383.3,1049.2 2388.7,1049.2 2394.1,1049.2 2399.5,1049.2 2404.9,1049.3 2410.3,1049.5 2415.7,1049.7 2421.1,1050.0 2426.5,1050.3 2431.9,1050.7 2437.3,1051.1 2442.7,1051.5 2448.1,1051.9 2453.5,1052.4 2458.9,1052.8 2464.3,1053.3 2469.7,1053.8 2475.1,1054.3 2480.5,1054.7 2485.9,1055.2 2491.3,1055.6 2496.7,1056.0 2502.1,1056.5 2507.5,1057.0 2512.9,1057.5 2518.3,1058.0 2523.7,1058.6 2529.1,1059.1 2534.5,1059.7 2539.9,1060.2 2545.3,1060.8 2550.7,1061.4 2556.1,1062.0 2561.5,1062.6 2566.9,1063.1 2572.3,1063.7 2577.7,1064.3 2583.1,1064.9 2588.5,1065.4 2593.9,1066.0 2599.3,1066.6 2604.7,1067.2 2610.1,1067.8 2615.5,1068.4 2620.9,1069.0 2626.3,1069.6 2631.7,1070.2 2637.1,1070.8 2642.5,1071.4 2647.9,1072.0 2653.3,1072.6 2658.7,1073.2 2664.1,1073.8 2669.5,1074.4 2674.9,1075.0 2680.3,1075.5 2685.7,1076.1 2691.1,1076.6 2696.5,1077.2 2701.9,1077.8 2707.3,1078.3 2712.7,1078.9 2718.1,1079.4 2723.5,1079.9 2728.9,1080.5 2734.3,1081.0 2739.7,1081.5 2745.1,1082.1 2750.5,1082.6 2755.9,1083.1 2761.3,1083.6 2766.7,1084.1 2772.1,1084.7 2777.5,1085.2 2782.9,1085.7 2788.3,1086.2 2793.7,1086.7 2799.1,1087.2 2804.5,1087.7 2809.9,1088.2 2815.3,1088.7 2820.7,1089.1 2826.1,1089.6 2831.5,1090.1 2836.9,1090.6 2842.3,1091.1 2847.7,1091.5 2853.1,1092.0 2858.5,1092.4 2863.9,1092.9 2869.3,1093.3 2874.7,1093.8 2880.1,1094.2 2885.5,1094.7 2890.9,1095.1 2896.3,1095.5 2901.7,1096.0 2907.1,1096.4 2912.5,1096.8 2917.9,1097.3 2923.3,1097.7 2928.7,1098.1 2934.1,1098.5 2939.5,1098.9 2944.9,1099.3 2950.3,1099.7 2955.7,1100.1 2961.1,1100.5 2966.5,1100.9" fill="none" stroke="#2f409c" stroke-width="4" stroke-linejoin="round" filter="url(#bl)" marker-start="url(#mb)" marker-mid="url(#mb)" marker-end="url(#mb)"/>
<polyline points="1886.5,1272.2 1891.9,1267.1 1897.3,1261.5 1902.7,1259.1 1908.1,1259.6 1913.5,1260.1 1918.9,1259.0 1924.3,1258.3 1929.7,1263.1 1935.1,1289.0 1940.5,1306.5 1945.9,1323.2 1951.3,1343.5 1956.7,1374.8 1962.1,1417.0 1967.5,1448.0 1972.9,1484.7 1978.3,1543.4 1983.7,1606.2 1989.1,1674.4 1994.5,1722.6 2000.5,1733.5 2005.3,1637.2 2010.7,1417.5 2016.1,1295.7 2021.5,1210.5 2026.9,1173.9 2032.3,1173.9 2037.7,1173.9 2043.1,1173.9 2048.5,1173.9 2053.9,1183.1 2059.3,1245.9 2064.7,1333.6 2070.1,1412.7 2076.3,1434.8 2080.9,1369.0 2086.3,1259.7 2091.7,1178.2 2097.1,1173.9 2102.5,1173.9 2107.9,1173.9 2113.3,1173.9 2118.7,1173.9 2124.1,1173.9 2129.5,1173.9 2134.9,1173.9 2140.3,1173.9 2145.7,1173.9 2151.1,1173.9 2156.5,1173.9 2161.9,1173.9 2167.3,1173.9 2172.7,1182.0 2178.5,1198.2 2183.5,1188.9 2188.9,1178.6 2194.3,1158.9 2199.7,1135.9 2205.1,1116.6 2210.5,1098.0 2215.9,1081.5 2221.3,1072.8 2226.7,1074.9 2232.1,1080.9 2237.5,1094.5 2242.9,1116.3 2248.3,1138.0 2253.7,1161.2 2259.1,1185.8 2264.5,1205.4 2269.9,1216.9 2275.3,1229.2 2280.7,1241.3 2286.1,1250.0 2291.5,1257.0 2296.9,1263.5 2302.3,1269.7 2307.7,1275.4 2313.1,1280.7 2318.5,1285.5 2323.9,1290.1 2329.3,1294.5 2334.7,1298.4 2340.1,1301.4 2345.5,1303.1 2350.9,1304.7 2356.3,1306.2 2361.7,1307.4 2367.1,1308.5 2372.5,1309.3 2377.9,1309.8 2383.3,1310.1 2388.7,1310.1 2394.1,1310.0 2399.5,1310.0 2404.9,1309.9 2410.3,1309.8 2415.7,1309.7 2421.1,1309.6 2426.5,1309.5 2431.9,1309.4 2437.3,1309.2 2442.7,1309.1 2448.1,1308.9 2453.5,1308.6 2458.9,1308.4 2464.3,1308.0 2469.7,1307.7 2475.1,1307.3 2480.5,1306.8 2485.9,1306.4 2491.3,1305.9 2496.7,1305.4 2502.1,1304.9 2507.5,1304.4 2512.9,1303.9 2518.3,1303.5 2523.7,1303.0 2529.1,1302.5 2534.5,1302.1 2539.9,1301.7 2545.3,1301.2 2550.7,1300.8 2556.1,1300.3 2561.5,1299.9 2566.9,1299.4 2572.3,1299.0 2577.7,1298.5 2583.1,1298.0 2588.5,1297.6 2593.9,1297.1 2599.3,1296.6 2604.7,1296.2 2610.1,1295.7 2615.5,1295.2 2620.9,1294.8 2626.3,1294.3 2631.7,1293.8 2637.1,1293.3 2642.5,1292.8 2647.9,1292.3 2653.3,1291.8 2658.7,1291.4 2664.1,1290.8 2669.5,1290.3 2674.9,1289.8 2680.3,1289.3 2685.7,1288.9 2691.1,1288.4 2696.5,1287.9 2701.9,1287.4 2707.3,1286.9 2712.7,1286.5 2718.1,1286.0 2723.5,1285.6 2728.9,1285.1 2734.3,1284.7 2739.7,1284.3 2745.1,1283.8 2750.5,1283.4 2755.9,1283.0 2761.3,1282.6 2766.7,1282.2 2772.1,1281.8 2777.5,1281.4 2782.9,1281.0 2788.3,1280.6 2793.7,1280.2 2799.1,1279.8 2804.5,1279.4 2809.9,1279.1 2815.3,1278.7 2820.7,1278.3 2826.1,1277.9 2831.5,1277.6 2836.9,1277.2 2842.3,1276.8 2847.7,1276.4 2853.1,1276.1 2858.5,1275.7 2863.9,1275.4 2869.3,1275.0 2874.7,1274.6 2880.1,1274.3 2885.5,1274.0 2890.9,1273.6 2896.3,1273.3 2901.7,1273.0 2907.1,1272.7 2912.5,1272.4 2917.9,1272.1 2923.3,1271.8 2928.7,1271.5 2934.1,1271.3 2939.5,1271.0 2944.9,1270.7 2950.3,1270.5 2955.7,1270.2 2961.1,1270.0 2966.5,1269.8" fill="none" stroke="#d0232e" stroke-width="4" stroke-linejoin="round" filter="url(#bl)" marker-start="url(#mr)" marker-mid="url(#mr)" marker-end="url(#mr)"/>
</g>
<rect x="1886.5" y="1009.7" width="1079.0" height="727.5" fill="none" stroke="#1a1a1a" stroke-width="3.2"/>
<text x="1863.5" y="1025.5" font-size="54.3" fill="#1a1a1a" text-anchor="end" >0.04</text>
<line x1="1886.5" y1="1090.9" x2="1903.5" y2="1090.9" stroke="#1a1a1a" stroke-width="3"/>
<text x="1863.5" y="1106.4" font-size="54.3" fill="#1a1a1a" text-anchor="end" >0.02</text>
<line x1="1886.5" y1="1171.7" x2="1903.5" y2="1171.7" stroke="#1a1a1a" stroke-width="3"/>
<text x="1863.5" y="1187.2" font-size="54.3" fill="#1a1a1a" text-anchor="end" >0</text>
<line x1="1886.5" y1="1252.5" x2="1903.5" y2="1252.5" stroke="#1a1a1a" stroke-width="3"/>
<text x="1863.5" y="1268.0" font-size="54.3" fill="#1a1a1a" text-anchor="end" >−0.02</text>
<line x1="1886.5" y1="1333.4" x2="1903.5" y2="1333.4" stroke="#1a1a1a" stroke-width="3"/>
<text x="1863.5" y="1348.9" font-size="54.3" fill="#1a1a1a" text-anchor="end" >−0.04</text>
<line x1="1886.5" y1="1414.2" x2="1903.5" y2="1414.2" stroke="#1a1a1a" stroke-width="3"/>
<text x="1863.5" y="1429.8" font-size="54.3" fill="#1a1a1a" text-anchor="end" >−0.06</text>
<line x1="1886.5" y1="1495.1" x2="1903.5" y2="1495.1" stroke="#1a1a1a" stroke-width="3"/>
<text x="1863.5" y="1510.6" font-size="54.3" fill="#1a1a1a" text-anchor="end" >−0.08</text>
<line x1="1886.5" y1="1576.0" x2="1903.5" y2="1576.0" stroke="#1a1a1a" stroke-width="3"/>
<text x="1863.5" y="1591.5" font-size="54.3" fill="#1a1a1a" text-anchor="end" >−0.10</text>
<line x1="1886.5" y1="1656.8" x2="1903.5" y2="1656.8" stroke="#1a1a1a" stroke-width="3"/>
<text x="1863.5" y="1672.3" font-size="54.3" fill="#1a1a1a" text-anchor="end" >−0.12</text>
<text x="1886.5" y="1799.2" font-size="54.3" fill="#1a1a1a" text-anchor="middle" >0</text>
<line x1="2030.5" y1="1737.2" x2="2030.5" y2="1722.2" stroke="#1a1a1a" stroke-width="3"/>
<text x="2030.5" y="1799.2" font-size="54.3" fill="#1a1a1a" text-anchor="middle" >4</text>
<line x1="2174.5" y1="1737.2" x2="2174.5" y2="1722.2" stroke="#1a1a1a" stroke-width="3"/>
<text x="2174.5" y="1799.2" font-size="54.3" fill="#1a1a1a" text-anchor="middle" >8</text>
<line x1="2318.5" y1="1737.2" x2="2318.5" y2="1722.2" stroke="#1a1a1a" stroke-width="3"/>
<text x="2318.5" y="1799.2" font-size="54.3" fill="#1a1a1a" text-anchor="middle" >12</text>
<line x1="2462.5" y1="1737.2" x2="2462.5" y2="1722.2" stroke="#1a1a1a" stroke-width="3"/>
<text x="2462.5" y="1799.2" font-size="54.3" fill="#1a1a1a" text-anchor="middle" >16</text>
<line x1="2606.5" y1="1737.2" x2="2606.5" y2="1722.2" stroke="#1a1a1a" stroke-width="3"/>
<text x="2606.5" y="1799.2" font-size="54.3" fill="#1a1a1a" text-anchor="middle" >20</text>
<line x1="2750.5" y1="1737.2" x2="2750.5" y2="1722.2" stroke="#1a1a1a" stroke-width="3"/>
<text x="2750.5" y="1799.2" font-size="54.3" fill="#1a1a1a" text-anchor="middle" >24</text>
<line x1="2894.5" y1="1737.2" x2="2894.5" y2="1722.2" stroke="#1a1a1a" stroke-width="3"/>
<text x="2894.5" y="1799.2" font-size="54.3" fill="#1a1a1a" text-anchor="middle" >28</text>
<line x1="2000.0" y1="1009.7" x2="2000.0" y2="1737.2" stroke="#111" stroke-width="3.3" stroke-dasharray="22 9.5 3.5 8 3.5 8.8" stroke-dashoffset="13"/>
<line x1="2192.5" y1="1009.7" x2="2192.5" y2="1737.2" stroke="#111" stroke-width="3.3" stroke-dasharray="22 9.5 3.5 8 3.5 8.8" stroke-dashoffset="13"/>
<line x1="1886.5" y1="1174.0" x2="2965.5" y2="1174.0" stroke="#1a1a1a" stroke-width="3"/>
<path d="M1887.5 1174.0 L1914.0 1166.8 L1914.0 1181.2 Z" fill="#1a1a1a"/>
<path d="M1999.0 1174.0 L1972.5 1166.8 L1972.5 1181.2 Z" fill="#1a1a1a"/>
<path d="M2001.0 1174.0 L2027.5 1166.8 L2027.5 1181.2 Z" fill="#1a1a1a"/>
<path d="M2191.5 1174.0 L2165.0 1166.8 L2165.0 1181.2 Z" fill="#1a1a1a"/>
<path d="M2193.5 1174.0 L2220.0 1166.8 L2220.0 1181.2 Z" fill="#1a1a1a"/>
<path d="M2964.5 1174.0 L2938.0 1166.8 L2938.0 1181.2 Z" fill="#1a1a1a"/>
<text x="2426.0" y="1861.7" font-size="54.3" fill="#1a1a1a" text-anchor="middle" >距离/m</text>
<text x="2424.0" y="1934.7" font-size="54.3" fill="#1a1a1a" text-anchor="middle" >(d) 测线 4 水平位移</text>
<text transform="translate(1709.0,1371.5) rotate(-90)" font-size="54.3" fill="#1a1a1a" text-anchor="middle">水平位移/m</text>
<text x="2946.5" y="1066.0" font-size="54.3" fill="#1a1a1a" text-anchor="end" >测线 4</text>
<text x="1889.0" y="1074.5" font-size="54.3" fill="#3aa14a" text-anchor="start" >煤柱</text>
<text x="1889.0" y="1140.0" font-size="54.3" fill="#3aa14a" text-anchor="start" >区域</text>
<text x="2044.0" y="1074.5" font-size="54.3" fill="#673a96" text-anchor="start" >巷道</text>
<text x="2044.0" y="1140.0" font-size="54.3" fill="#673a96" text-anchor="start" >区域</text>
<text x="2428.0" y="1229.0" font-size="54.3" fill="#4d9fd0" text-anchor="start" >深部围岩区域</text>
<clipPath id="cpe"><rect x="390.0" y="1997.6" width="1091.0" height="745.4"/></clipPath>
<g clip-path="url(#cpe)">
<polyline points="389.5,2233.3 394.9,2228.1 400.3,2222.1 405.7,2215.4 411.1,2207.7 416.5,2199.2 421.9,2190.1 427.3,2180.2 432.7,2169.9 438.1,2159.1 443.5,2148.1 448.9,2137.7 454.3,2127.8 459.7,2118.0 465.1,2107.7 470.5,2097.4 475.9,2088.8 481.3,2081.8 486.7,2076.0 492.1,2071.6 497.5,2068.1 502.9,2064.7 508.3,2060.1 513.7,2055.6 519.1,2054.1 524.5,2057.4 529.9,2061.8 535.3,2067.1 540.7,2071.0 546.1,2073.4 551.5,2075.0 556.9,2075.9 562.3,2076.5 567.7,2077.0 573.1,2077.3 578.5,2077.4 583.9,2077.3 589.3,2077.2 594.7,2077.0 600.1,2076.8 605.5,2076.5 610.9,2075.8 616.3,2074.7 621.7,2073.6 627.1,2073.2 632.5,2073.4 637.9,2074.0 643.3,2074.8 648.7,2075.6 654.1,2076.5 659.5,2077.8 664.9,2081.1 670.3,2092.4 675.7,2121.4 681.1,2145.8 686.5,2173.6 691.9,2210.0 698.6,2247.4 702.7,2236.7 708.1,2215.8 713.5,2189.3 718.9,2165.6 724.3,2143.0 729.7,2123.6 735.1,2108.0 740.5,2093.5 745.9,2080.4 751.3,2068.4 756.7,2058.8 762.1,2053.3 767.5,2048.7 772.9,2044.7 778.3,2041.2 783.7,2037.9 789.1,2036.7 794.5,2036.7 799.9,2036.7 805.3,2036.3 810.7,2035.4 816.1,2034.2 821.5,2032.9 826.9,2031.7 832.3,2030.9 837.7,2030.6 843.1,2030.6 848.5,2030.8 853.9,2031.0 859.3,2031.3 864.7,2031.6 870.1,2032.0 875.5,2032.3 880.9,2032.7 886.3,2033.0 891.7,2033.3 897.1,2033.5 902.5,2033.7 907.9,2033.9 913.3,2034.1 918.7,2034.3 924.1,2034.5 929.5,2034.7 934.9,2034.8 940.3,2035.0 945.7,2035.2 951.1,2035.4 956.5,2035.5 961.9,2035.7 967.3,2035.9 972.7,2036.1 978.1,2036.3 983.5,2036.5 988.9,2036.7 994.3,2036.9 999.7,2037.2 1005.1,2037.4 1010.5,2037.7 1015.9,2038.0 1021.3,2038.2 1026.7,2038.5 1032.1,2038.8 1037.5,2039.1 1042.9,2039.3 1048.3,2039.6 1053.7,2039.9 1059.1,2040.2 1064.5,2040.5 1069.9,2040.8 1075.3,2041.0 1080.7,2041.3 1086.1,2041.6 1091.5,2041.9 1096.9,2042.1 1102.3,2042.4 1107.7,2042.7 1113.1,2043.0 1118.5,2043.3 1123.9,2043.5 1129.3,2043.8 1134.7,2044.1 1140.1,2044.4 1145.5,2044.6 1150.9,2044.9 1156.3,2045.2 1161.7,2045.4 1167.1,2045.7 1172.5,2045.9 1177.9,2046.2 1183.3,2046.4 1188.7,2046.6 1194.1,2046.8 1199.5,2047.1 1204.9,2047.3 1210.3,2047.5 1215.7,2047.7 1221.1,2047.9 1226.5,2048.1 1231.9,2048.3 1237.3,2048.5 1242.7,2048.7 1248.1,2048.9 1253.5,2049.2 1258.9,2049.4 1264.3,2049.6 1269.7,2049.8 1275.1,2050.1 1280.5,2050.3 1285.9,2050.5 1291.3,2050.8 1296.7,2051.0 1302.1,2051.3 1307.5,2051.6 1312.9,2051.8 1318.3,2052.1 1323.7,2052.3 1329.1,2052.6 1334.5,2052.8 1339.9,2053.1 1345.3,2053.3 1350.7,2053.5 1356.1,2053.7 1361.5,2054.0 1366.9,2054.2 1372.3,2054.4 1377.7,2054.6 1383.1,2054.8 1388.5,2055.0 1393.9,2055.2 1399.3,2055.3 1404.7,2055.5 1410.1,2055.7 1415.5,2055.9 1420.9,2056.1 1426.3,2056.3 1431.7,2056.4 1437.1,2056.6 1442.5,2056.8 1447.9,2056.9 1453.3,2057.1 1458.7,2057.2 1464.1,2057.4 1469.5,2057.5" fill="none" stroke="#2f409c" stroke-width="4" stroke-linejoin="round" filter="url(#bl)" marker-start="url(#mb)" marker-mid="url(#mb)" marker-end="url(#mb)"/>
<polyline points="389.5,2177.2 394.9,2179.9 400.3,2183.0 405.7,2186.5 411.1,2190.3 416.5,2194.6 421.9,2199.5 427.3,2204.7 432.7,2210.4 438.1,2216.7 443.5,2223.8 448.9,2231.8 454.3,2241.8 459.7,2256.5 465.1,2270.8 470.5,2286.4 475.9,2301.9 481.3,2314.2 486.7,2331.5 492.1,2350.2 497.5,2373.7 502.9,2400.1 508.3,2418.8 513.7,2436.8 519.1,2458.5 524.5,2485.9 529.9,2512.3 535.3,2537.4 540.7,2561.4 546.1,2578.4 551.5,2592.1 556.9,2605.5 562.3,2618.6 567.7,2631.1 573.1,2644.7 578.5,2658.7 583.9,2668.9 589.3,2654.9 594.7,2633.8 600.1,2604.4 605.5,2555.0 610.9,2522.5 616.3,2495.9 621.7,2470.5 627.1,2442.6 632.5,2408.9 637.9,2372.6 643.3,2342.3 648.7,2315.2 654.1,2287.9 659.5,2257.3 664.9,2223.8 670.3,2187.6 675.7,2164.4 681.1,2158.5 686.5,2171.0 691.9,2187.5 699.5,2207.6 702.7,2204.9 708.1,2194.8 713.5,2187.3 718.9,2180.2 724.3,2173.0 729.7,2165.9 735.1,2158.7 740.5,2151.0 745.9,2143.1 751.3,2136.7 756.7,2131.3 762.1,2130.6 767.5,2132.2 772.9,2134.4 778.3,2136.3 783.7,2138.1 789.1,2140.1 794.5,2142.8 799.9,2146.7 805.3,2148.8 810.7,2150.6 816.1,2152.0 821.5,2153.1 826.9,2153.7 832.3,2153.9 837.7,2154.1 843.1,2154.3 848.5,2154.5 853.9,2154.7 859.3,2154.8 864.7,2154.9 870.1,2155.0 875.5,2155.1 880.9,2155.1 886.3,2155.1 891.7,2155.2 897.1,2155.1 902.5,2155.1 907.9,2154.9 913.3,2154.7 918.7,2154.4 924.1,2154.1 929.5,2153.8 934.9,2153.4 940.3,2152.9 945.7,2152.5 951.1,2152.0 956.5,2151.6 961.9,2151.1 967.3,2150.6 972.7,2150.2 978.1,2149.8 983.5,2149.3 988.9,2149.0 994.3,2148.6 999.7,2148.2 1005.1,2147.8 1010.5,2147.3 1015.9,2146.9 1021.3,2146.5 1026.7,2146.0 1032.1,2145.6 1037.5,2145.2 1042.9,2144.7 1048.3,2144.3 1053.7,2143.9 1059.1,2143.5 1064.5,2143.1 1069.9,2142.7 1075.3,2142.4 1080.7,2142.1 1086.1,2141.7 1091.5,2141.4 1096.9,2141.1 1102.3,2140.8 1107.7,2140.5 1113.1,2140.3 1118.5,2140.0 1123.9,2139.7 1129.3,2139.4 1134.7,2139.2 1140.1,2138.9 1145.5,2138.7 1150.9,2138.4 1156.3,2138.2 1161.7,2137.9 1167.1,2137.7 1172.5,2137.5 1177.9,2137.2 1183.3,2137.0 1188.7,2136.7 1194.1,2136.5 1199.5,2136.3 1204.9,2136.0 1210.3,2135.8 1215.7,2135.6 1221.1,2135.4 1226.5,2135.2 1231.9,2134.9 1237.3,2134.7 1242.7,2134.5 1248.1,2134.3 1253.5,2134.1 1258.9,2133.9 1264.3,2133.7 1269.7,2133.6 1275.1,2133.4 1280.5,2133.2 1285.9,2133.0 1291.3,2132.8 1296.7,2132.6 1302.1,2132.5 1307.5,2132.3 1312.9,2132.1 1318.3,2132.0 1323.7,2131.8 1329.1,2131.6 1334.5,2131.5 1339.9,2131.3 1345.3,2131.2 1350.7,2131.1 1356.1,2130.9 1361.5,2130.8 1366.9,2130.7 1372.3,2130.6 1377.7,2130.5 1383.1,2130.4 1388.5,2130.3 1393.9,2130.1 1399.3,2130.0 1404.7,2129.9 1410.1,2129.8 1415.5,2129.7 1420.9,2129.7 1426.3,2129.6 1431.7,2129.5 1437.1,2129.4 1442.5,2129.3 1447.9,2129.2 1453.3,2129.2 1458.7,2129.1 1464.1,2129.0 1469.5,2129.0" fill="none" stroke="#d0232e" stroke-width="4" stroke-linejoin="round" filter="url(#bl)" marker-start="url(#mr)" marker-mid="url(#mr)" marker-end="url(#mr)"/>
</g>
<rect x="389.5" y="2006.6" width="1080.0" height="727.4" fill="none" stroke="#1a1a1a" stroke-width="3.2"/>
<text x="366.5" y="2022.6" font-size="54.3" fill="#1a1a1a" text-anchor="end" >0.05</text>
<line x1="389.5" y1="2087.4" x2="406.5" y2="2087.4" stroke="#1a1a1a" stroke-width="3"/>
<text x="366.5" y="2103.4" font-size="54.3" fill="#1a1a1a" text-anchor="end" >0</text>
<line x1="389.5" y1="2168.2" x2="406.5" y2="2168.2" stroke="#1a1a1a" stroke-width="3"/>
<text x="366.5" y="2184.2" font-size="54.3" fill="#1a1a1a" text-anchor="end" >−0.5</text>
<line x1="389.5" y1="2249.0" x2="406.5" y2="2249.0" stroke="#1a1a1a" stroke-width="3"/>
<text x="366.5" y="2265.0" font-size="54.3" fill="#1a1a1a" text-anchor="end" >−0.10</text>
<line x1="389.5" y1="2329.8" x2="406.5" y2="2329.8" stroke="#1a1a1a" stroke-width="3"/>
<text x="366.5" y="2345.8" font-size="54.3" fill="#1a1a1a" text-anchor="end" >−0.15</text>
<line x1="389.5" y1="2410.6" x2="406.5" y2="2410.6" stroke="#1a1a1a" stroke-width="3"/>
<text x="366.5" y="2426.6" font-size="54.3" fill="#1a1a1a" text-anchor="end" >−0.20</text>
<line x1="389.5" y1="2491.4" x2="406.5" y2="2491.4" stroke="#1a1a1a" stroke-width="3"/>
<text x="366.5" y="2507.4" font-size="54.3" fill="#1a1a1a" text-anchor="end" >−0.25</text>
<line x1="389.5" y1="2572.2" x2="406.5" y2="2572.2" stroke="#1a1a1a" stroke-width="3"/>
<text x="366.5" y="2588.2" font-size="54.3" fill="#1a1a1a" text-anchor="end" >−0.30</text>
<line x1="389.5" y1="2653.0" x2="406.5" y2="2653.0" stroke="#1a1a1a" stroke-width="3"/>
<text x="366.5" y="2669.0" font-size="54.3" fill="#1a1a1a" text-anchor="end" >−0.35</text>
<text x="366.5" y="2749.8" font-size="54.3" fill="#1a1a1a" text-anchor="end" >−0.40</text>
<text x="389.5" y="2796.0" font-size="54.3" fill="#1a1a1a" text-anchor="middle" >0</text>
<line x1="533.5" y1="2734.0" x2="533.5" y2="2719.0" stroke="#1a1a1a" stroke-width="3"/>
<text x="533.5" y="2796.0" font-size="54.3" fill="#1a1a1a" text-anchor="middle" >4</text>
<line x1="677.5" y1="2734.0" x2="677.5" y2="2719.0" stroke="#1a1a1a" stroke-width="3"/>
<text x="677.5" y="2796.0" font-size="54.3" fill="#1a1a1a" text-anchor="middle" >8</text>
<line x1="821.5" y1="2734.0" x2="821.5" y2="2719.0" stroke="#1a1a1a" stroke-width="3"/>
<text x="821.5" y="2796.0" font-size="54.3" fill="#1a1a1a" text-anchor="middle" >12</text>
<line x1="965.5" y1="2734.0" x2="965.5" y2="2719.0" stroke="#1a1a1a" stroke-width="3"/>
<text x="965.5" y="2796.0" font-size="54.3" fill="#1a1a1a" text-anchor="middle" >16</text>
<line x1="1109.5" y1="2734.0" x2="1109.5" y2="2719.0" stroke="#1a1a1a" stroke-width="3"/>
<text x="1109.5" y="2796.0" font-size="54.3" fill="#1a1a1a" text-anchor="middle" >20</text>
<line x1="1253.5" y1="2734.0" x2="1253.5" y2="2719.0" stroke="#1a1a1a" stroke-width="3"/>
<text x="1253.5" y="2796.0" font-size="54.3" fill="#1a1a1a" text-anchor="middle" >24</text>
<line x1="1397.5" y1="2734.0" x2="1397.5" y2="2719.0" stroke="#1a1a1a" stroke-width="3"/>
<text x="1397.5" y="2796.0" font-size="54.3" fill="#1a1a1a" text-anchor="middle" >28</text>
<line x1="506.1" y1="2006.6" x2="506.1" y2="2734.0" stroke="#111" stroke-width="3.3" stroke-dasharray="22 9.5 3.5 8 3.5 8.8" stroke-dashoffset="13"/>
<line x1="698.1" y1="2006.6" x2="698.1" y2="2734.0" stroke="#111" stroke-width="3.3" stroke-dasharray="22 9.5 3.5 8 3.5 8.8" stroke-dashoffset="13"/>
<line x1="389.5" y1="2087.4" x2="1469.5" y2="2087.4" stroke="#1a1a1a" stroke-width="3"/>
<path d="M390.5 2087.4 L417.0 2080.2 L417.0 2094.6 Z" fill="#1a1a1a"/>
<path d="M505.1 2087.4 L478.6 2080.2 L478.6 2094.6 Z" fill="#1a1a1a"/>
<path d="M507.1 2087.4 L533.6 2080.2 L533.6 2094.6 Z" fill="#1a1a1a"/>
<path d="M697.1 2087.4 L670.6 2080.2 L670.6 2094.6 Z" fill="#1a1a1a"/>
<path d="M699.1 2087.4 L725.6 2080.2 L725.6 2094.6 Z" fill="#1a1a1a"/>
<path d="M1468.5 2087.4 L1442.0 2080.2 L1442.0 2094.6 Z" fill="#1a1a1a"/>
<text x="929.5" y="2858.5" font-size="54.3" fill="#1a1a1a" text-anchor="middle" >距离/m</text>
<text x="927.5" y="2931.5" font-size="54.3" fill="#1a1a1a" text-anchor="middle" >(e) 测线 5 水平位移</text>
<text transform="translate(212.0,2368.3) rotate(-90)" font-size="54.3" fill="#1a1a1a" text-anchor="middle">水平位移/m</text>
<text x="1450.5" y="2693.0" font-size="54.3" fill="#1a1a1a" text-anchor="end" >测线 5</text>
<text x="396.0" y="2437.5" font-size="54.3" fill="#3aa14a" text-anchor="start" >煤柱</text>
<text x="396.0" y="2503.0" font-size="54.3" fill="#3aa14a" text-anchor="start" >区域</text>
<text x="548.0" y="2149.5" font-size="54.3" fill="#673a96" text-anchor="start" >巷道</text>
<text x="548.0" y="2217.0" font-size="54.3" fill="#673a96" text-anchor="start" >区域</text>
<text x="926.0" y="2139.0" font-size="54.3" fill="#4d9fd0" text-anchor="start" >深部围岩区域</text>
<clipPath id="cpf"><rect x="1887.8" y="1998.6" width="1081.2" height="745.4"/></clipPath>
<g clip-path="url(#cpf)">
<polyline points="1887.3,2169.9 1892.7,2163.6 1898.1,2157.0 1903.5,2150.3 1908.9,2143.3 1914.3,2136.0 1919.7,2128.7 1925.1,2121.4 1930.5,2114.2 1935.9,2107.5 1941.3,2101.3 1946.7,2095.1 1952.1,2088.8 1957.5,2082.5 1962.9,2076.1 1968.3,2069.5 1973.7,2063.4 1979.1,2058.3 1984.5,2053.9 1989.9,2049.9 1995.3,2046.7 2000.7,2043.6 2006.1,2039.9 2011.5,2035.4 2016.9,2032.1 2022.3,2029.5 2027.7,2028.7 2033.1,2029.0 2038.5,2029.7 2043.9,2032.7 2049.3,2036.5 2054.7,2038.8 2060.1,2040.8 2065.5,2042.6 2070.9,2044.7 2076.3,2047.0 2081.7,2049.2 2087.1,2050.7 2092.5,2051.5 2097.9,2052.2 2103.3,2052.7 2108.7,2053.4 2114.1,2054.0 2119.5,2054.7 2124.9,2055.4 2130.3,2056.2 2135.7,2057.1 2141.1,2058.2 2146.5,2059.4 2151.9,2060.9 2157.3,2062.8 2162.7,2065.1 2168.1,2068.2 2173.5,2072.5 2178.9,2078.5 2184.3,2089.0 2189.7,2111.1 2195.1,2131.1 2200.5,2137.1 2205.9,2120.3 2211.3,2107.7 2216.7,2101.6 2222.1,2096.1 2227.5,2091.1 2232.9,2083.0 2238.3,2071.4 2243.7,2062.5 2249.1,2054.9 2254.5,2048.1 2259.9,2041.9 2265.3,2035.9 2270.7,2030.7 2276.1,2026.9 2281.5,2023.7 2286.9,2022.6 2292.3,2022.6 2297.7,2022.6 2303.1,2022.6 2308.5,2022.7 2313.9,2022.8 2319.3,2022.9 2324.7,2023.1 2330.1,2023.4 2335.5,2023.6 2340.9,2023.9 2346.3,2024.2 2351.7,2024.6 2357.1,2024.9 2362.5,2025.3 2367.9,2025.6 2373.3,2026.0 2378.7,2026.4 2384.1,2026.7 2389.5,2027.0 2394.9,2027.4 2400.3,2027.7 2405.7,2028.0 2411.1,2028.3 2416.5,2028.7 2421.9,2029.0 2427.3,2029.4 2432.7,2029.7 2438.1,2030.1 2443.5,2030.5 2448.9,2030.8 2454.3,2031.2 2459.7,2031.6 2465.1,2031.9 2470.5,2032.3 2475.9,2032.6 2481.3,2033.0 2486.7,2033.3 2492.1,2033.7 2497.5,2034.0 2502.9,2034.3 2508.3,2034.7 2513.7,2035.0 2519.1,2035.3 2524.5,2035.7 2529.9,2036.0 2535.3,2036.3 2540.7,2036.7 2546.1,2037.0 2551.5,2037.3 2556.9,2037.6 2562.3,2037.9 2567.7,2038.3 2573.1,2038.6 2578.5,2038.9 2583.9,2039.1 2589.3,2039.4 2594.7,2039.7 2600.1,2040.0 2605.5,2040.3 2610.9,2040.5 2616.3,2040.8 2621.7,2041.1 2627.1,2041.4 2632.5,2041.6 2637.9,2041.9 2643.3,2042.1 2648.7,2042.4 2654.1,2042.7 2659.5,2042.9 2664.9,2043.2 2670.3,2043.5 2675.7,2043.7 2681.1,2044.0 2686.5,2044.3 2691.9,2044.6 2697.3,2044.8 2702.7,2045.1 2708.1,2045.4 2713.5,2045.7 2718.9,2045.9 2724.3,2046.2 2729.7,2046.5 2735.1,2046.8 2740.5,2047.0 2745.9,2047.3 2751.3,2047.6 2756.7,2047.8 2762.1,2048.1 2767.5,2048.3 2772.9,2048.6 2778.3,2048.8 2783.7,2049.0 2789.1,2049.3 2794.5,2049.5 2799.9,2049.7 2805.3,2049.9 2810.7,2050.2 2816.1,2050.4 2821.5,2050.6 2826.9,2050.8 2832.3,2051.0 2837.7,2051.2 2843.1,2051.4 2848.5,2051.6 2853.9,2051.8 2859.3,2052.0 2864.7,2052.2 2870.1,2052.4 2875.5,2052.6 2880.9,2052.8 2886.3,2052.9 2891.7,2053.1 2897.1,2053.3 2902.5,2053.5 2907.9,2053.6 2913.3,2053.8 2918.7,2054.0 2924.1,2054.2 2929.5,2054.3 2934.9,2054.5 2940.3,2054.6 2945.7,2054.8 2951.1,2054.9 2956.5,2055.1 2961.9,2055.2 2967.3,2055.4" fill="none" stroke="#2f409c" stroke-width="4" stroke-linejoin="round" filter="url(#bl)" marker-start="url(#mb)" marker-mid="url(#mb)" marker-end="url(#mb)"/>
<polyline points="1887.3,2254.6 1892.7,2258.9 1898.1,2263.4 1903.5,2268.1 1908.9,2273.0 1914.3,2278.1 1919.7,2283.4 1925.1,2289.0 1930.5,2294.7 1935.9,2300.4 1941.3,2306.5 1946.7,2313.1 1952.1,2320.6 1957.5,2329.0 1962.9,2337.9 1968.3,2347.7 1973.7,2357.5 1979.1,2366.5 1984.5,2377.6 1989.9,2391.6 1995.3,2409.2 2000.7,2425.1 2006.1,2437.1 2011.5,2447.7 2016.9,2461.6 2022.3,2476.0 2027.7,2490.5 2033.1,2507.3 2038.5,2523.3 2043.9,2541.1 2049.3,2557.0 2054.7,2570.9 2060.1,2582.0 2065.5,2588.6 2070.9,2595.3 2076.3,2602.4 2081.7,2609.7 2087.1,2617.7 2092.5,2626.0 2097.9,2633.8 2103.3,2641.2 2108.7,2648.3 2114.1,2655.0 2119.5,2661.3 2124.9,2667.3 2130.3,2673.0 2135.7,2678.3 2141.1,2683.3 2146.5,2688.2 2151.9,2692.3 2157.3,2695.4 2162.7,2696.0 2168.1,2696.0 2173.5,2689.2 2178.9,2638.6 2184.3,2559.7 2189.7,2482.3 2195.1,2352.6 2200.5,2323.0 2205.9,2308.8 2211.3,2296.6 2216.7,2287.7 2222.1,2277.4 2227.5,2266.4 2232.9,2256.0 2238.3,2244.2 2243.7,2229.5 2249.1,2216.5 2254.5,2205.7 2259.9,2196.7 2265.3,2189.2 2270.7,2183.3 2276.1,2178.5 2281.5,2174.8 2286.9,2171.9 2292.3,2170.2 2297.7,2172.9 2303.1,2173.9 2308.5,2173.7 2313.9,2173.4 2319.3,2173.0 2324.7,2172.5 2330.1,2172.0 2335.5,2171.3 2340.9,2170.6 2346.3,2169.8 2351.7,2169.0 2357.1,2168.2 2362.5,2167.4 2367.9,2166.6 2373.3,2165.8 2378.7,2165.0 2384.1,2164.3 2389.5,2163.6 2394.9,2163.0 2400.3,2162.4 2405.7,2161.8 2411.1,2161.3 2416.5,2160.7 2421.9,2160.1 2427.3,2159.5 2432.7,2159.0 2438.1,2158.4 2443.5,2157.9 2448.9,2157.3 2454.3,2156.8 2459.7,2156.3 2465.1,2155.8 2470.5,2155.3 2475.9,2154.8 2481.3,2154.3 2486.7,2153.8 2492.1,2153.3 2497.5,2152.9 2502.9,2152.4 2508.3,2152.0 2513.7,2151.5 2519.1,2151.1 2524.5,2150.7 2529.9,2150.3 2535.3,2149.8 2540.7,2149.4 2546.1,2149.0 2551.5,2148.7 2556.9,2148.3 2562.3,2147.9 2567.7,2147.6 2573.1,2147.2 2578.5,2146.9 2583.9,2146.6 2589.3,2146.2 2594.7,2145.9 2600.1,2145.6 2605.5,2145.3 2610.9,2145.1 2616.3,2144.8 2621.7,2144.5 2627.1,2144.2 2632.5,2144.0 2637.9,2143.7 2643.3,2143.5 2648.7,2143.2 2654.1,2143.0 2659.5,2142.7 2664.9,2142.5 2670.3,2142.2 2675.7,2142.0 2681.1,2141.8 2686.5,2141.5 2691.9,2141.3 2697.3,2141.1 2702.7,2140.8 2708.1,2140.6 2713.5,2140.4 2718.9,2140.2 2724.3,2140.0 2729.7,2139.8 2735.1,2139.6 2740.5,2139.3 2745.9,2139.1 2751.3,2138.9 2756.7,2138.7 2762.1,2138.5 2767.5,2138.3 2772.9,2138.1 2778.3,2137.9 2783.7,2137.7 2789.1,2137.5 2794.5,2137.3 2799.9,2137.1 2805.3,2136.9 2810.7,2136.7 2816.1,2136.5 2821.5,2136.3 2826.9,2136.1 2832.3,2135.9 2837.7,2135.8 2843.1,2135.6 2848.5,2135.4 2853.9,2135.2 2859.3,2135.1 2864.7,2134.9 2870.1,2134.8 2875.5,2134.7 2880.9,2134.5 2886.3,2134.4 2891.7,2134.2 2897.1,2134.1 2902.5,2134.0 2907.9,2133.8 2913.3,2133.7 2918.7,2133.6 2924.1,2133.5 2929.5,2133.4 2934.9,2133.3 2940.3,2133.1 2945.7,2133.0 2951.1,2132.9 2956.5,2132.8 2961.9,2132.8 2967.3,2132.7" fill="none" stroke="#d0232e" stroke-width="4" stroke-linejoin="round" filter="url(#bl)" marker-start="url(#mr)" marker-mid="url(#mr)" marker-end="url(#mr)"/>
</g>
<rect x="1887.3" y="2007.6" width="1079.7" height="727.4" fill="none" stroke="#1a1a1a" stroke-width="3.2"/>
<text x="1868.3" y="2022.6" font-size="54.3" fill="#1a1a1a" text-anchor="end" >0.05</text>
<line x1="1887.3" y1="2087.4" x2="1904.3" y2="2087.4" stroke="#1a1a1a" stroke-width="3"/>
<text x="1868.3" y="2103.4" font-size="54.3" fill="#1a1a1a" text-anchor="end" >0</text>
<line x1="1887.3" y1="2168.2" x2="1904.3" y2="2168.2" stroke="#1a1a1a" stroke-width="3"/>
<text x="1868.3" y="2184.2" font-size="54.3" fill="#1a1a1a" text-anchor="end" >−0.5</text>
<line x1="1887.3" y1="2249.0" x2="1904.3" y2="2249.0" stroke="#1a1a1a" stroke-width="3"/>
<text x="1868.3" y="2265.0" font-size="54.3" fill="#1a1a1a" text-anchor="end" >−0.10</text>
<line x1="1887.3" y1="2329.8" x2="1904.3" y2="2329.8" stroke="#1a1a1a" stroke-width="3"/>
<text x="1868.3" y="2345.8" font-size="54.3" fill="#1a1a1a" text-anchor="end" >−0.15</text>
<line x1="1887.3" y1="2410.6" x2="1904.3" y2="2410.6" stroke="#1a1a1a" stroke-width="3"/>
<text x="1868.3" y="2426.6" font-size="54.3" fill="#1a1a1a" text-anchor="end" >−0.20</text>
<line x1="1887.3" y1="2491.4" x2="1904.3" y2="2491.4" stroke="#1a1a1a" stroke-width="3"/>
<text x="1868.3" y="2507.4" font-size="54.3" fill="#1a1a1a" text-anchor="end" >−0.25</text>
<line x1="1887.3" y1="2572.2" x2="1904.3" y2="2572.2" stroke="#1a1a1a" stroke-width="3"/>
<text x="1868.3" y="2588.2" font-size="54.3" fill="#1a1a1a" text-anchor="end" >−0.30</text>
<line x1="1887.3" y1="2653.0" x2="1904.3" y2="2653.0" stroke="#1a1a1a" stroke-width="3"/>
<text x="1868.3" y="2669.0" font-size="54.3" fill="#1a1a1a" text-anchor="end" >−0.35</text>
<text x="1868.3" y="2749.8" font-size="54.3" fill="#1a1a1a" text-anchor="end" >−0.40</text>
<text x="1887.3" y="2797.0" font-size="54.3" fill="#1a1a1a" text-anchor="middle" >0</text>
<line x1="2031.3" y1="2735.0" x2="2031.3" y2="2720.0" stroke="#1a1a1a" stroke-width="3"/>
<text x="2031.3" y="2797.0" font-size="54.3" fill="#1a1a1a" text-anchor="middle" >4</text>
<line x1="2175.3" y1="2735.0" x2="2175.3" y2="2720.0" stroke="#1a1a1a" stroke-width="3"/>
<text x="2175.3" y="2797.0" font-size="54.3" fill="#1a1a1a" text-anchor="middle" >8</text>
<line x1="2319.3" y1="2735.0" x2="2319.3" y2="2720.0" stroke="#1a1a1a" stroke-width="3"/>
<text x="2319.3" y="2797.0" font-size="54.3" fill="#1a1a1a" text-anchor="middle" >12</text>
<line x1="2463.3" y1="2735.0" x2="2463.3" y2="2720.0" stroke="#1a1a1a" stroke-width="3"/>
<text x="2463.3" y="2797.0" font-size="54.3" fill="#1a1a1a" text-anchor="middle" >16</text>
<line x1="2607.3" y1="2735.0" x2="2607.3" y2="2720.0" stroke="#1a1a1a" stroke-width="3"/>
<text x="2607.3" y="2797.0" font-size="54.3" fill="#1a1a1a" text-anchor="middle" >20</text>
<line x1="2751.3" y1="2735.0" x2="2751.3" y2="2720.0" stroke="#1a1a1a" stroke-width="3"/>
<text x="2751.3" y="2797.0" font-size="54.3" fill="#1a1a1a" text-anchor="middle" >24</text>
<line x1="2895.3" y1="2735.0" x2="2895.3" y2="2720.0" stroke="#1a1a1a" stroke-width="3"/>
<text x="2895.3" y="2797.0" font-size="54.3" fill="#1a1a1a" text-anchor="middle" >28</text>
<line x1="2004.2" y1="2007.6" x2="2004.2" y2="2735.0" stroke="#111" stroke-width="3.3" stroke-dasharray="22 9.5 3.5 8 3.5 8.8" stroke-dashoffset="13"/>
<line x1="2199.6" y1="2007.6" x2="2199.6" y2="2735.0" stroke="#111" stroke-width="3.3" stroke-dasharray="22 9.5 3.5 8 3.5 8.8" stroke-dashoffset="13"/>
<line x1="1887.3" y1="2089.5" x2="2967.0" y2="2089.5" stroke="#1a1a1a" stroke-width="3"/>
<path d="M1888.3 2089.5 L1914.8 2082.3 L1914.8 2096.7 Z" fill="#1a1a1a"/>
<path d="M2003.2 2089.5 L1976.7 2082.3 L1976.7 2096.7 Z" fill="#1a1a1a"/>
<path d="M2005.2 2089.5 L2031.7 2082.3 L2031.7 2096.7 Z" fill="#1a1a1a"/>
<path d="M2198.6 2089.5 L2172.1 2082.3 L2172.1 2096.7 Z" fill="#1a1a1a"/>
<path d="M2200.6 2089.5 L2227.1 2082.3 L2227.1 2096.7 Z" fill="#1a1a1a"/>
<path d="M2966.0 2089.5 L2939.5 2082.3 L2939.5 2096.7 Z" fill="#1a1a1a"/>
<text x="2408.2" y="2859.5" font-size="54.3" fill="#1a1a1a" text-anchor="middle" >距离/m</text>
<text x="2425.2" y="2932.5" font-size="54.3" fill="#1a1a1a" text-anchor="middle" >(f) 测线 6 水平位移</text>
<text transform="translate(1711.8,2369.3) rotate(-90)" font-size="54.3" fill="#1a1a1a" text-anchor="middle">水平位移/m</text>
<text x="2948.0" y="2693.0" font-size="54.3" fill="#1a1a1a" text-anchor="end" >测线 6</text>
<text x="1896.0" y="2205.5" font-size="54.3" fill="#3aa14a" text-anchor="start" >煤柱</text>
<text x="1896.0" y="2271.0" font-size="54.3" fill="#3aa14a" text-anchor="start" >区域</text>
<text x="2046.0" y="2152.0" font-size="54.3" fill="#673a96" text-anchor="start" >巷道</text>
<text x="2046.0" y="2217.5" font-size="54.3" fill="#673a96" text-anchor="start" >区域</text>
<text x="2425.0" y="2140.0" font-size="54.3" fill="#4d9fd0" text-anchor="start" >深部围岩区域</text>
<clipPath id="cg"><rect x="495.7" y="2959.7" width="1365.3" height="878.1000000000004"/></clipPath>
<g clip-path="url(#cg)">
<rect x="495.7" y="2959.7" width="1365.3" height="878.1000000000004" fill="#e0d2ac"/>
<g stroke="#c5bba1"><path id="msh" d="M1543 3147L1592 3162M660 3206L621 3200M666 3245L697 3217M721 3125L742 3176M1470 3397L1494 3457M1485 3264L1510 3211M846 2954L789 2964M1016 3404L991 3431M1375 3385L1413 3385M732 3225L708 3269M1773 3399L1831 3435M728 3719L730 3668M1217 2997L1200 3046M726 3296L740 3270M700 3184L721 3125M865 3436L840 3451M1163 3135L1133 3132M1076 3367L1055 3349M1598 3535L1595 3602M1146 3274L1149 3234M1668 3189L1676 3237M847 3265L832 3305M1046 3087L1078 3112M593 3598L632 3557M1236 3589L1278 3622M658 3081L686 3041M1352 3678L1342 3609M1064 3448L1041 3406M1465 3606L1391 3595M1392 3412L1437 3413M1518 3317L1536 3350M922 3403L938 3378M1733 3314L1725 3253M1577 2988L1533 2920M666 3245L621 3200M1077 3335L1105 3340M1845 3597L1739 3611M753 3140L742 3176M1027 3426L991 3431M597 3039L563 3093M606 3686L537 3633M1395 3054L1358 3019M953 3395L938 3378M931 3156L954 3160M901 3509L918 3541M885 2937L911 2981M525 3055L498 2981M1733 3314L1684 3281M1342 3609L1278 3622M742 3623L732 3570M1090 3135L1133 3132M1841 3878L1901 3838M1274 3242L1261 3261M708 3363L710 3402M897 3015L911 2981M1041 3555L1076 3535M1389 3452L1371 3491M805 3241L772 3277M1127 3201L1157 3206M558 3142L506 3151M1676 3237L1712 3168M1555 3572L1488 3559M962 2990L936 3016M1095 3454L1075 3423M1172 3357L1164 3393M1518 3317L1521 3277M1823 3329L1916 3358M861 3296L885 3278M1076 3535L1100 3501M1076 3367L1077 3399M968 3033L923 3046M1394 3324L1425 3345M742 3176L771 3190M1227 3496L1213 3538M1394 3324L1363 3304M1302 3333L1290 3308M980 3338L957 3360M1030 3210L1039 3186M1177 3534L1213 3538M1502 3173L1467 3189M837 3396L862 3395M489 3098L558 3142M799 3204L768 3240M1217 2997L1269 2973M1683 3764L1583 3784M813 3330L832 3348M653 2979L637 2920M1641 3618L1689 3559M798 3391L772 3375M726 3332L755 3308M1080 3821L1081 3767M1192 3295L1168 3266M963 3452L929 3443M1080 3821L1109 3885M790 3123L754 3107M1160 3076L1188 3083M1277 3457L1299 3410M1261 3107L1313 3101M642 3336L633 3302M1227 3496L1189 3484M1041 3555L982 3534M1510 3211L1502 3173M1137 3297L1161 3311M1108 3182L1118 3153M897 3175L903 3148M1235 3384L1236 3410M1830 3261L1889 3220M1325 3264L1336 3221M1409 3289L1453 3272M873 3203L849 3178M1049 3283L1083 3306M690 3645L677 3710M550 3364L490 3317M1418 3254L1388 3213M1148 3560L1150 3521M690 3325L708 3269M849 3326L832 3348M1441 3447L1389 3452M1392 3412L1413 3385M502 3671L537 3633M922 3403L888 3403M1041 3555L1041 3523M1668 3189L1674 3138M1076 3367L1120 3383M1641 3618L1595 3602M929 3443L906 3465M1562 3723L1508 3718M1208 3747L1163 3756M475 3801L572 3814M1418 3254L1378 3278M1172 3228L1149 3234M837 3551L854 3516M1151 3110L1134 3087M561 3191L538 3231M1705 3357L1776 3347M1024 3828L1043 3742M1046 3087L1047 3034M1332 3370L1329 3423M871 3731L812 3716M1438 3069L1419 3104M710 3402L694 3446M1773 3399L1776 3347M1040 3375L1076 3367M966 3216L949 3201M980 3338L938 3335M1128 3338L1137 3297M669 3161L621 3200M923 3201L897 3175M938 3378L957 3360M962 2990L1011 3017M835 3062L817 3019M1756 2974L1698 2988M927 3693L962 3639M912 3310L885 3278M1066 2954L1069 2988M1212 3648L1247 3692M1078 3112L1068 3062M871 3731L852 3680M980 3338L981 3313M963 3452L966 3421M923 3201L938 3225M808 3589L799 3554M1571 3646L1522 3668M977 3181L966 3216M978 3120L1009 3136M670 3536L690 3572M799 3204L839 3202M666 3285L666 3245M1659 3091L1680 3038M976 3390L983 3367M1438 3214L1467 3189M1000 3327L1009 3290M776 3497L737 3500M1640 3557L1595 3602M653 2979L731 2977M1427 3499L1463 3487M1277 3457L1272 3410M1556 3262L1521 3277M1041 3321L1017 3350M871 3099L898 3067M1307 3196L1302 3229M556 3435L600 3375M839 3202L812 3163M923 3201L949 3201M963 3452L991 3431M1264 3288L1261 3261M1878 3401L1831 3435M1500 3005L1454 3020M1389 3452L1427 3499M525 3749L474 3719M1495 3513L1451 3535M1606 3221L1592 3162M1192 3295L1186 3251M1800 3084L1754 3032M962 2990L911 2981M1329 3128L1367 3075M653 3122L721 3125M1361 3342L1390 3354M709 3527L684 3489M1277 3457L1289 3486M1047 3034L1068 3062M525 3749L550 3696M1336 3817L1391 3820M732 3225L697 3217M1063 3487L1064 3448M1049 3283L1038 3254M1145 3645L1179 3668M1845 3597L1821 3514M1047 3034L1069 2988M1024 3828L1081 3767M975 3092L1005 3057M1668 3189L1606 3221M931 3156L903 3148M1687 3466L1638 3497M732 3225L768 3240M1420 3888L1391 3820M1440 3779L1391 3820M873 3153L886 3126M972 3683L975 3737M1451 3535L1411 3536M1398 3654L1342 3609M768 3535L709 3527M525 3749L572 3814M1495 3513L1529 3478M985 3570L982 3534M642 3336L587 3327M1319 3301L1340 3322M1284 3063L1313 3038M1217 2997L1198 2955M726 3296L755 3308M1715 3427L1779 3456M873 3153L849 3178M1077 3399L1115 3410M870 3604L837 3551M1555 3572L1542 3519M1095 3454L1064 3448M1628 2927L1698 2988M1236 3589L1294 3585M818 3517L776 3497M1823 3329L1776 3347M1391 3595L1368 3566M1589 3068L1528 3055M1274 3242L1302 3229M1010 3471L1009 3447M1641 3618L1571 3646M1030 3210L1065 3196M1157 3206L1149 3234M1002 3612L1039 3597M1821 3514L1742 3505M1046 3087L1005 3057M1768 3554L1821 3514M708 3363L690 3325M917 3269L885 3278M1624 3363L1629 3419M1577 2988L1528 3055M1002 3612L933 3597M1192 3295L1183 3326M1174 3624L1179 3668M1039 3597L1056 3642M1342 3609L1294 3585M1457 3134L1413 3170M709 3527L737 3500M817 3831L878 3843M871 3731L803 3760M799 3204L812 3163M1118 3360L1152 3339M1151 3110L1163 3135M1008 3660L1056 3642M952 3476L906 3465M1392 3412L1389 3452M1124 3256L1106 3286M1318 3709L1247 3692M808 3455L790 3422M966 3216L1002 3191M1453 3272L1418 3254M1500 3005L1577 2988M1014 3095L1035 3138M1638 3497L1689 3559M1269 2973L1304 3000M1252 3346L1218 3362M1409 3289L1434 3312M1120 3678L1179 3668M1336 3221L1368 3189M1574 3405L1629 3419M1358 3019L1313 3038M1128 3338L1107 3313M1898 3568L1821 3514M773 3075L735 3068M1207 3210L1225 3189M1167 3707L1163 3756M1488 3559L1542 3519M1004 3222L1030 3210M873 3328L861 3296M1319 3301L1302 3333M728 3719L757 3779M1260 3037L1249 3078M1142 3425L1147 3378M1336 3817L1361 3884M789 2964L731 2977M1523 3613L1595 3602M1076 3022L1068 3062M1102 3002L1069 2988M1304 3656L1278 3622M922 3403L897 3440M1571 3646L1523 3613M1510 3211L1556 3262M917 3269L954 3248M1264 3288L1300 3283M1010 3471L1028 3494M1125 3730L1167 3707M805 3241L833 3235M1127 3201L1149 3234M1745 3203L1791 3159M938 3225L909 3245M704 3782L748 3859M1160 3169L1133 3132M730 3668L677 3710M1473 3351L1425 3345M1418 3254L1463 3239M1508 3718L1516 3783M1027 3426L1064 3448M700 3184L732 3225M835 3062L868 3066M1398 3654L1352 3678M463 3604L502 3671M1114 3537L1148 3560M885 3305L885 3278M761 2932L789 2964M1024 3828L986 3786M463 3604L537 3633M1845 3597L1883 3703M1760 3755L1879 3770M897 3015L898 3067M1500 3005L1504 2956M503 3252L490 3317M1413 3170L1368 3189M1756 2974L1754 3032M837 3396L798 3391M1689 3559L1640 3557M1307 3196L1303 3158M1261 3107L1237 3131M1158 3028L1102 3002M1227 3496L1232 3468M473 3051L498 2981M681 3834L632 3786M1257 3504L1289 3486M1176 3191L1188 3171M757 3408L710 3402M1821 3514L1779 3456M991 3431L1009 3447M1189 3484L1213 3538M847 3265L818 3264M1814 3808L1729 3834M920 3757L880 3787M1324 3480L1345 3457M1087 3271L1088 3231M1205 3237L1207 3210M1304 3656L1247 3692M1643 3311L1705 3357M931 3156L918 3120M1063 3487L1040 3467M768 3535L776 3497M1269 2973L1228 3029M1514 3383L1536 3350M1441 3447L1463 3487M619 3890L632 3786M1330 3553L1332 3517M653 3122L697 3090M963 3452L985 3481M1374 3524L1427 3499M724 3017L735 3068M1227 3313L1241 3274M972 3683L1008 3660M1394 3324L1378 3278M606 3686L550 3696M923 3201L906 3218M1529 3478L1542 3519M1080 3821L1152 3842M953 3395L957 3360M1043 3742L1024 3698M1177 3534L1148 3560M1310 3449L1329 3423M1118 3360L1105 3340M1200 3046L1228 3029M1019 2913L1030 2986M1495 3513L1463 3487M1543 3147L1560 3222M1274 3242L1276 3216M1528 3055L1551 3105M773 3075L754 3107M814 3290L818 3264M1200 3046L1188 3083M1252 3346L1228 3341M972 3683L927 3693M1409 3289L1394 3324M847 3265L860 3229M808 3455L840 3451M1017 3160L1039 3186M768 3535L799 3554M1866 3064L1813 2994M1190 3126L1163 3135M1296 3257L1261 3261M860 3229L833 3235M1121 2968L1102 3002M931 3831L878 3843M1117 3469L1100 3501M933 3597L962 3639M632 3786L677 3710M1583 3784L1601 3868M1172 3357L1218 3362M1096 3070L1134 3087M1675 3681L1619 3699M868 3066L898 3067M1028 3494L1041 3523M1429 3570L1451 3535M1005 3057L1047 3034M954 3248L938 3225M1341 3171L1368 3189M1831 3435L1779 3456M1205 3414L1164 3393M1596 3265L1556 3262M1030 3210L1002 3191M1773 3399L1779 3456M837 3396L860 3355M494 3407L556 3435M931 3831L986 3786M1168 3420L1155 3454M1197 3802L1283 3786M993 3252L971 3267M1124 3256L1121 3226M1440 3779L1516 3783M1252 3346L1257 3313M700 3184L669 3161M897 3175L849 3178M985 3570L945 3558M1606 3221L1642 3265M1413 3170L1467 3189M852 3680L812 3716M1830 3261L1886 3298M502 3671L474 3719M1027 3426L1040 3467M514 3463L507 3516M1687 3466L1742 3505M1381 3111L1329 3128M882 3372L873 3328M1674 3138L1712 3168M1800 3084L1813 2994M897 3175L906 3218M1574 3405L1573 3360M931 3831L930 3889M882 3372L922 3403M1049 3283L1031 3298M700 3184L697 3217M1332 3067L1358 3019M1024 3828L1080 3821M502 3671L550 3696M998 2975L1019 2913M1027 3426L1016 3404M1330 3553L1342 3609M503 3252L538 3231M613 3088L642 3031M897 3015L854 3028M550 3364L469 3361M790 3123L781 3156M1004 3222L966 3216M1177 3534L1198 3593M1329 3423L1354 3406M1016 3404L976 3390M882 3372L862 3395M906 3333L885 3305M1076 3022L1102 3002M669 3161L614 3134M561 3191L506 3151M1663 3881L1640 3821M789 3320L772 3277M1267 3546L1213 3538M1687 3466L1670 3389M1633 3019L1698 2988M1413 3385L1390 3354M790 3123L826 3102M1087 3271L1049 3283M1017 3160L1035 3138M966 3421L938 3419M1473 3351L1470 3397M1284 3063L1332 3067M897 3175L931 3156M1095 3162L1090 3135M972 3683L962 3639M1495 3513L1488 3559M537 3633L550 3696M1529 3478L1494 3457M1407 2993L1394 2943M666 3245L708 3269M1009 3290L971 3267M1451 3535L1427 3499M1261 3107L1249 3078M1041 3555L1004 3514M1310 3449L1324 3480M1332 3067L1313 3038M1172 3357L1147 3378M789 3320L773 3344M1236 3410L1258 3436M1257 3313L1227 3313M1375 3385L1390 3354M1024 3828L1052 3882M773 3344L755 3308M1494 3457L1463 3487M1277 3457L1258 3436M591 3288L546 3292M1209 3106L1190 3126M1076 3681L1024 3698M1041 3321L1083 3306M1160 3076L1134 3087M1076 3022L1047 3034M790 3422L798 3391M1152 2911L1121 2968M1192 3295L1215 3278M1628 2927L1577 2988M1075 3423L1115 3410M885 3305L861 3296M690 3645L730 3668M1366 3247L1418 3254M1368 3566L1411 3536M1137 3297L1107 3313M918 3541L900 3580M1295 3129L1313 3101M1705 3357L1715 3427M799 3204L771 3190M1670 3389L1624 3363M1141 3491L1100 3501M1172 3228L1207 3210M1128 3338L1161 3311M1264 3849L1283 3786M1016 3404L1007 3372M1773 3399L1715 3427M868 3066L854 3028M1470 3397L1526 3427M1756 2974L1813 2994M1341 3171L1303 3158M1407 2993L1454 3020M1659 3091L1727 3118M1771 3273L1776 3347M1147 3378L1115 3410M632 3263L591 3288M1198 3593L1212 3648M1601 3868L1640 3821M1571 3646L1595 3602M1209 3106L1220 3071M584 3749L677 3710M726 3332L773 3344M1066 2954L1121 2968M681 3834L619 3890M933 3597L900 3580M975 3092L978 3120M550 3364L494 3407M1329 3128L1373 3148M1147 3378L1164 3393M968 3033L962 2990M1197 3802L1264 3849M772 3277L740 3270M1830 3261L1771 3273M1643 3311L1684 3281M1206 3334L1183 3326M821 3421L840 3451M1441 3447L1437 3413M757 3408L728 3432M1332 3370L1340 3322M1296 3257L1302 3229M781 3009L801 3054M1206 3334L1192 3295M1409 3289L1418 3254M732 3570L690 3572M1218 3362L1228 3341M525 3055L555 2978M1186 3251L1215 3278M817 3831L800 3908M897 3015L936 3016M871 3099L922 3093M1598 3535L1542 3519M1745 3203L1771 3273M1190 3126L1237 3131M770 3450L737 3500M882 3372L888 3403M1514 3383L1526 3427M1267 3188L1276 3216M1394 3324L1390 3354M1133 3132L1118 3153M1668 3189L1592 3162M901 3509L906 3465M708 3363L745 3363M871 3099L857 3125M875 3487L865 3436M1733 3314L1776 3347M807 3358L832 3348M1592 3162L1620 3122M1075 3423L1064 3448M835 3062L854 3028M1389 3452L1354 3406M1457 3134L1467 3189M653 3122L669 3161M954 3160L981 3144M918 3120L903 3148M849 3326L861 3296M1100 3634L1065 3579M871 3731L927 3693M1260 3037L1304 3000M1240 3248L1215 3278M1257 3504L1267 3546M1821 3514L1831 3435M1336 3817L1283 3786M906 3218L873 3203M818 3517L840 3482M642 3336L600 3375M708 3363L726 3332M1332 3370L1361 3342M1267 3546L1330 3553M769 3585L781 3635M550 3364L587 3327M1683 3764L1760 3755M1150 3521L1100 3501M776 3690L728 3719M1063 3487L1100 3501M1598 3535L1575 3461M910 3359L938 3335M1243 3220L1205 3237M1329 3128L1313 3101M847 3265L885 3278M839 3202L833 3235M975 3737L1024 3698M1180 3449L1155 3454M1161 3311L1146 3274M1172 3357L1192 3380M1687 3466L1715 3427M1076 3681L1100 3634M637 3444L637 3490M1812 3677L1879 3770M1332 3370L1354 3406M897 3175L933 3180M870 3604L808 3589M991 3431L966 3421M1261 3261L1300 3283M1004 3222L993 3252M1095 3454L1100 3501M922 3093L898 3067M814 3290L847 3265M1624 3363L1575 3302M584 3749L632 3786M1212 3164L1237 3131M1633 3019L1628 2927M971 3267L966 3292M1014 3095L1053 3121M1363 3304L1378 3278M1130 3174L1108 3182M976 3390L966 3421M789 2964L847 2990M1574 3405L1575 3461M1117 3108L1078 3112M1118 3360L1120 3383M776 3690L730 3668M862 3395L865 3436M732 3225L771 3190M637 3444L694 3446M1523 3613L1488 3559M770 3450L728 3432M807 3358L772 3375M939 2957L911 2981M1589 3068L1551 3105M582 3521L595 3477M1243 3220L1240 3248M709 3527L732 3570M1670 3389L1715 3427M922 3403L910 3359M773 3344L772 3375M769 3585L768 3535M1114 3537L1076 3535M637 3375L600 3375M732 3225L740 3270M1100 3634L1138 3611M1389 3452L1345 3457M1830 3261L1796 3211M1257 3313L1241 3274M561 3191L597 3170M976 3390L991 3431M552 3489L544 3545M1457 3651L1422 3708M933 3597L945 3558M726 3332L690 3325M1260 3037L1228 3029M1429 3570L1488 3559M1633 3019L1659 3091M1009 3290L1031 3298M871 3099L868 3066M1198 3593L1236 3589M873 3153L857 3125M1745 3203L1796 3211M1319 3301L1290 3308M1562 3723L1522 3668M1381 3111L1395 3054M1814 3808L1841 3878M1457 3651L1522 3668M463 3604L519 3584M799 3204L833 3235M1663 3881L1729 3834M724 3017L731 2977M1683 3764L1731 3666M724 3466L728 3432M666 3285L690 3325M1017 3160L1002 3191M1674 3138L1620 3122M753 3140L721 3125M1375 3746L1318 3709M837 3551L808 3589M1355 2970L1304 3000M1398 3654L1422 3708M700 3184L742 3176M1160 3076L1200 3046M1638 3497L1598 3535M1151 3110L1190 3126M597 3170L621 3200M1641 3618L1739 3611M748 3859L757 3779M757 3408L790 3422M1327 3760L1277 3739M1523 3613L1465 3606M726 3296L708 3269M1812 3677L1739 3611M597 3039L642 3031M1467 3189L1463 3239M1200 3046L1220 3071M1247 3692L1277 3739M1345 3457L1371 3491M773 3075L826 3102M1010 3471L985 3481M503 3252L457 3232M840 3482L840 3451M561 3191L621 3200M1327 3760L1283 3786M931 3156L933 3180M1341 3171L1329 3128M1299 3410L1310 3449M1633 3019L1577 2988M957 3137L931 3156M1429 3570L1465 3606M506 3151L493 3195M1760 3755L1731 3666M1407 2993L1358 3019M514 3883L572 3814M781 3009L731 2977M870 3604L900 3580M1217 2997L1228 3029M1324 3480L1292 3518M1727 3118L1680 3038M519 3584L544 3545M1197 3802L1208 3747M1056 3642L1065 3579M768 3535L737 3500M1176 3191L1157 3206M1560 3222L1556 3262M1502 3173L1508 3122M1128 3338L1105 3340M1336 3817L1264 3849M1823 3329L1831 3435M1814 3808L1879 3770M1090 3135L1117 3108M1010 3471L1004 3514M837 3396L807 3358M1441 3447L1494 3457M772 3277L755 3308M1598 3535L1640 3557M1177 3534L1189 3484M1212 3648L1278 3622M637 3375L676 3383M670 3536L637 3490M502 3671L447 3664M882 3372L860 3355M1698 2988L1693 2912M1470 3397L1514 3383M957 3137L981 3144M593 3598L544 3545M742 3623L690 3572M1000 3327L981 3313M651 3408L694 3446M708 3269L740 3270M1727 3118L1712 3168M514 3463L443 3417M929 3443L938 3419M514 3463L494 3407M1495 3513L1494 3457M1453 3272L1476 3314M1345 3457L1329 3423M1141 3491L1150 3521M1823 3329L1830 3261M1319 3301L1363 3304M949 3113L918 3120M1148 3560L1138 3611M1592 3162L1551 3105M653 3122L658 3081M1768 3554L1689 3559M1240 3248L1261 3261M1441 3447L1470 3397M897 3015L868 3066M1457 3651L1523 3613M1090 3135L1058 3145M1053 3121L1058 3145M632 3263L666 3285M1304 3656L1318 3709M556 3435L595 3477M440 3479L507 3516M597 3170L558 3142M1227 3313L1206 3334M1097 3586L1065 3579M770 3450L790 3422M1485 3264L1476 3314M726 3296L690 3325M721 3125L697 3090M1267 3188L1256 3152M1077 3399L1120 3383M710 3402L676 3383M840 3482L854 3516M1130 3174L1133 3132M1236 3410L1260 3385M1041 3321L1031 3298M772 3277L818 3264M1419 3104L1395 3054M945 3558L982 3534M1040 3375L1041 3406M546 3292L587 3327M839 3202L849 3178M769 3585L742 3623M561 3191L558 3142M768 3240L772 3277M1528 3055L1508 3122M972 3683L1024 3698M1043 3742L1081 3767M1017 3160L981 3144M1791 3159L1712 3168M1160 3169L1188 3171M1106 3286L1137 3297M885 3230L906 3218M1040 3375L1055 3349M498 2981L555 2978M966 3292L946 3271M1768 3554L1845 3597M1095 3162L1118 3153M1457 3651L1465 3606M1562 3723L1619 3699M880 3787L817 3831M637 3490L595 3477M757 3408L745 3363M885 3278L909 3245M637 3444L684 3489M561 3191L493 3195M498 2981L445 3002M475 3801L525 3749M1004 3222L1047 3232M740 3270L755 3308M1095 3162L1065 3196M1049 3283L1062 3255M1551 3105L1508 3122M1121 2968L1069 2988M1589 3068L1633 3019M957 3137L954 3160M1121 3052L1134 3087M1583 3784L1619 3699M1898 3568L1845 3597M1009 3290L981 3313M1641 3618L1640 3557M1374 3524L1330 3553M1227 3313L1192 3295M1198 2955L1151 2991M993 3252L954 3248M781 3635L815 3663M1739 3611L1689 3559M1771 3273L1796 3211M1236 3410L1213 3392M684 3489L737 3500M768 3240L771 3190M1041 3321L1077 3335M1575 3461L1629 3419M1398 3654L1465 3606M1077 3335L1055 3349M1440 3779L1477 3861M1381 3111L1373 3148M1124 3256L1088 3231M1040 3375L1077 3399M910 3359L938 3378M1160 3076L1151 3110M1172 3357L1152 3339M781 3156L812 3163M690 3645L632 3632M1167 3707L1179 3668M870 3604L910 3656M1579 2895L1577 2988M1683 3764L1619 3699M1145 3645L1120 3678M1791 3159L1796 3211M580 2937L604 2979M1127 3201L1108 3182M735 3068L758 3040M503 3252L451 3282M817 3831L803 3760M1310 3449L1345 3457M582 3242L546 3292M1206 3334L1228 3341M1197 3802L1152 3842M938 3335L938 3378M1325 3264L1366 3247M880 3553L854 3516M1038 3254L1062 3255M1814 2935L1887 2963M1043 3742L986 3786M1236 3589L1212 3648M1176 3191L1160 3169M1076 3681L1043 3742M880 3553L900 3580M945 3558L918 3541M1299 3410L1329 3423M847 3265L873 3256M1024 3828L993 3894M818 3517L799 3554M1076 3535L1065 3579M653 3122L614 3134M1160 3076L1121 3052M1743 2892L1756 2974M1076 3022L1069 2988M826 3102L857 3125M1125 3784L1081 3767M1261 3107L1256 3152M1198 3593L1174 3624M1014 3095L1046 3087M1028 3494L1040 3467M1198 2955L1269 2973M807 3358L773 3344M1106 3286L1107 3313M854 3028L847 2990M1010 3471L1040 3467M945 3511L901 3509M975 3092L945 3078M880 3553L918 3541M1620 3122L1551 3105M1643 3311L1575 3302M1374 3524L1368 3566M1229 3436L1236 3410M1053 3121L1035 3138M1205 3414L1192 3380M1267 3546L1292 3518M998 2975L1030 2986M1014 3095L1005 3057M837 3396L832 3348M613 3088L658 3081M985 3570L1041 3555M993 3252L966 3216M862 3395L888 3403M1742 3505L1779 3456M769 3585L808 3589M1367 3075L1313 3101M1151 3110L1133 3132M870 3604L834 3622M835 3062L801 3054M1812 3677L1883 3703M1341 3171L1307 3196M1030 2986L1069 2988M642 3031L653 2979M805 3241L799 3204M1076 3681L1081 3767M642 3336L690 3325M1812 3677L1760 3755M1168 3420L1205 3443M981 3313L966 3292M1307 3196L1336 3221M1823 3329L1886 3298M1106 3286L1083 3306M670 3536L684 3489M897 3015L923 3046M745 3363L772 3375M1125 3730L1081 3767M1529 3478L1526 3427M597 3039L555 2978M490 3317L546 3292M582 3242L561 3191M761 2932L731 2977M922 3403L938 3419M949 3310L938 3335M1102 3002L1151 2991M1573 3360L1624 3363M953 3395L938 3419M606 3686L677 3710M1176 3191L1172 3228M954 3160L949 3201M1325 3264L1296 3257M1533 3841L1583 3784M870 3604L880 3553M489 3098L525 3055M572 3814L632 3786M1419 3104L1373 3148M1007 3372L983 3367M1533 3841L1516 3783M925 3491L906 3465M1518 3317L1575 3302M938 3335L912 3310M718 2909L731 2977M632 3632L632 3557M1800 3084L1895 3116M580 2937L555 2978M556 3435L603 3421M953 3395L976 3390M1643 3311L1642 3265M731 2977L683 2940M1375 3746L1352 3678M1518 3317L1476 3314M931 3831L993 3894M1080 3821L1052 3882M1137 3297L1146 3274M993 3252L1038 3254M805 3241L818 3264M1247 3692L1179 3668M1361 3342L1363 3304M550 3364L556 3435M1260 3037L1220 3071M1284 3063L1313 3101M1142 3425L1155 3454M977 3181L949 3201M1543 3147L1551 3105M681 3834L748 3859M801 3054L817 3019M1257 3313L1264 3288M826 3102L801 3054M769 3585L732 3570M721 3125L669 3161M582 3242L591 3288M975 3092L974 3063M1260 3037L1313 3038M690 3645L667 3605M1304 3656L1342 3609M1002 3612L1056 3642M885 3230L909 3245M1596 3265L1606 3221M886 3126L903 3148M1076 3681L1120 3678M880 3553L837 3551M1812 3677L1731 3666M842 3152L857 3125M1117 3108L1134 3087M929 3292L946 3271M1125 3730L1120 3678M1229 3436L1258 3436M1336 3817L1299 3902M949 3113L978 3120M873 3256L909 3245M1043 3742L975 3737M1041 3321L1049 3283M834 3622L852 3680M1267 3188L1225 3189M1277 3457L1310 3449M1047 3232L1038 3254M1243 3220L1276 3216M949 3113L975 3092M1142 3425L1119 3435M813 3330L832 3305M846 2954L847 2990M968 3033L1005 3057M1124 3256L1087 3271M1257 3313L1290 3308M1207 3210L1188 3171M584 3749L606 3686M1451 3535L1463 3487M1100 3634L1145 3645M931 3831L920 3757M735 3068L697 3090M949 3310L929 3292M860 3355L832 3348M1355 2970L1358 3019M1742 3505L1715 3427M1413 3170L1373 3148M931 3831L880 3787M1107 3313L1077 3335M821 3421L790 3422M1249 3078L1220 3071M613 3088L614 3134M1208 3747L1277 3739M1146 3274L1168 3266M1814 3808L1760 3755M1147 3378L1120 3383M1009 3290L1038 3254M865 3436L888 3403M1698 2988L1754 3032M906 3333L873 3328M1149 3234L1168 3266M1310 2956L1304 3000M606 3686L632 3632M814 3290L789 3320M1117 3469L1155 3454M546 3292L538 3231M1261 3107L1284 3063M475 3801L514 3883M1596 3265L1560 3222M1121 2968L1158 2952M514 3463L552 3489M1745 3203L1725 3253M1205 3414L1213 3392M1276 3216L1302 3229M1823 3329L1771 3273M1064 3448L1040 3467M519 3584L593 3598M1041 3321L1055 3349M875 3487L906 3465M1361 3342L1340 3322M1304 3656L1352 3678M1556 3262L1575 3302M870 3604L933 3597M911 2981L936 3016M1668 3189L1712 3168M1205 3237L1186 3251M710 3402L728 3432M1088 3231L1065 3196M1560 3222L1510 3211M977 3181L1002 3191M781 3156L771 3190M768 3535L732 3570M704 3782L728 3719M945 3078L922 3093M980 3338L983 3367M1047 3232L1065 3196M957 3137L918 3120M1510 3211L1463 3239M1791 3159L1727 3118M1476 3314L1521 3277M1485 3264L1463 3239M923 3046L898 3067M1562 3723L1571 3646M1596 3265L1643 3311M1117 3469L1119 3435M1002 3612L985 3570M922 3403L929 3443M1429 3570L1391 3595M637 3444L595 3477M726 3296L726 3332M1683 3764L1729 3834M1528 3055L1481 3092M862 3395L860 3355M1440 3779L1508 3718M1101 3208L1108 3182M1107 3313L1105 3340M949 3201L933 3180M1638 3497L1629 3419M1065 3196L1057 3169M1434 3312L1425 3345M968 3033L945 3078M1161 3311L1152 3339M1142 3425L1168 3420M582 3242L621 3200M966 3216L954 3248M886 3126L918 3120M897 3440L865 3436M1473 3351L1514 3383M1330 3553L1292 3518M975 3737L986 3786M1381 3111L1367 3075M1659 3091L1674 3138M1125 3784L1152 3842M637 3444L651 3408M1127 3201L1121 3226M978 3120L981 3144M897 3440L929 3443M753 3140L790 3123M600 3375L603 3421M1180 3449L1205 3443M1325 3264L1300 3283M1197 3802L1191 3880M1341 3171L1336 3221M1247 3692L1278 3622M1264 3288L1241 3274M1366 3247L1388 3213M923 3201L933 3180M1457 3134L1502 3173M1451 3535L1488 3559M1429 3570L1368 3566M1725 3253L1684 3281M790 3123L773 3075M1041 3555L1039 3597M1575 3461L1542 3519M938 3335L957 3360M1329 3128L1303 3158M550 3364L546 3292M1172 3228L1168 3266M873 3328L860 3355M728 3719L803 3760M1299 3376L1302 3333M1676 3237L1725 3253M1105 2902L1121 2968M1235 3384L1260 3385M1267 3188L1303 3158M1102 3002L1121 3052M1823 3329L1773 3399M826 3102L842 3152M1366 3247L1378 3278M834 3622L815 3663M1076 3535L1041 3523M1008 3660L1024 3698M1292 3518L1289 3486M953 3395L966 3421M582 3521L632 3557M1676 3237L1684 3281M653 2979L683 2940M880 3787L803 3760M1434 3312L1476 3314M880 3787L878 3843M1141 3491L1155 3454M1867 3477L1831 3435M1172 3228L1157 3206M1272 3410L1260 3385M1345 3457L1354 3406M835 3062L826 3102M666 3285L708 3269M1160 3169L1157 3206M681 3834L675 3943M1457 3134L1508 3122M776 3690L815 3663M493 3195L538 3231M584 3749L525 3749M1212 3164L1256 3152M514 3463L556 3435M773 3075L758 3040M1192 3380L1164 3393M963 3452L938 3419M748 3859L817 3831M952 3476L925 3491M998 2975L939 2957M789 2964L817 3019M906 3333L912 3310M968 3033L974 3063M1007 3372L976 3390M977 3181L981 3144M817 3831L757 3779M1158 3028L1217 2997M1388 3213L1368 3189M1205 3414L1236 3410M558 3142L614 3134M1083 3306L1077 3335M582 3521L552 3489M817 3019L847 2990M1087 3271L1062 3255M1409 3289L1378 3278M1017 3160L977 3181M882 3372L906 3333M1014 3095L978 3120M1756 2974L1693 2912M704 3782L681 3834M1427 3499L1411 3536M834 3622L781 3635M1495 3513L1542 3519M1398 3654L1391 3595M1375 3746L1391 3820M1147 3378L1118 3360M1325 3264L1302 3229M901 3509L854 3516M1332 3067L1313 3101M781 3635L808 3589M1256 3152L1237 3131M1683 3764L1675 3681M632 3263L621 3200M1394 3324L1434 3312M1299 3376L1332 3370M842 3152L812 3163M1027 3426L1041 3406M600 3375L587 3327M582 3521L544 3545M1358 3019L1367 3075M597 3170L669 3161M1119 3435L1155 3454M1800 3084L1727 3118M821 3421L865 3436M945 3078L974 3063M998 2975L981 2919M1325 3264L1363 3304M1205 3237L1172 3228M1172 3228L1186 3251M1077 3399L1041 3406M1257 3313L1302 3333M985 3570L1039 3597M1340 3322L1363 3304M1121 3226L1088 3231M1355 2970L1407 2993M985 3481L1009 3447M1005 3057L974 3063M897 3175L873 3203M837 3551L799 3554M552 3489L595 3477M985 3570L933 3597M1419 3104L1481 3092M1065 3196L1108 3182M724 3017L758 3040M1295 3129L1256 3152M1217 2997L1151 2991M1260 3037L1269 2973M1299 3376L1275 3359M1390 3354L1425 3345M1407 2993L1395 3054M801 3054L758 3040M933 3597L910 3656M642 3336L676 3383M757 3408L798 3391M821 3421L837 3396M885 2937L847 2990M1002 3191L1039 3186M1473 3351L1536 3350M1057 3169L1058 3145M730 3668L781 3635M1329 3128L1295 3129M1324 3480L1289 3486M1633 3019L1680 3038M897 3015L847 2990M667 3605L632 3557M1680 3038L1698 2988M1562 3723L1583 3784M1543 3147L1510 3211M949 3310L912 3310M1039 3597L1065 3579M1562 3723L1516 3783M1575 3302L1536 3350M1381 3111L1419 3104M789 3320L755 3308M977 3181L954 3160M1814 2935L1813 2994M1147 3378L1152 3339M954 3160L933 3180M814 3290L772 3277M709 3527L690 3572M694 3446L684 3489M870 3604L852 3680M1355 2970L1310 2956M1325 3264L1319 3301M1823 3329L1878 3401M1773 3399L1705 3357M1127 3201L1101 3208M1040 3375L1007 3372M1151 2991L1158 2952M1500 3005L1452 2950M637 3444L603 3421M1754 3032L1813 2994M812 3163L771 3190M1290 3308L1264 3288M697 3217L708 3269M781 3009L758 3040M1583 3784L1516 3783M1867 3477L1821 3514M1212 3648L1174 3624M1413 3170L1438 3214M735 3068L686 3041M849 3326L813 3330M1257 3504L1227 3496M1575 3302L1521 3277M814 3290L832 3305M1028 3494L1004 3514M503 3252L546 3292M1095 3454L1119 3435M789 3320L813 3330M949 3113L922 3093M1011 3017L1047 3034M1555 3572L1523 3613M1197 3802L1163 3756M1768 3554L1739 3611M1290 3308L1300 3283M1180 3449L1168 3420M690 3645L742 3623M1374 3524L1411 3536M1668 3189L1620 3122M1228 3029L1220 3071M1257 3504L1232 3468M753 3140L781 3156M1004 3222L1002 3191M1172 3357L1206 3334M1232 3468L1205 3443M613 3088L653 3122M1427 3499L1371 3491M839 3202L860 3229M1555 3572L1598 3535M885 3230L860 3229M875 3487L840 3482M1058 3145L1035 3138M923 3046L936 3016M651 3408L676 3383M1284 3063L1249 3078M1047 3232L1088 3231M757 3408L772 3375M704 3782L757 3779M710 3402L745 3363M1494 3457L1526 3427M637 3490L632 3557M1475 3055L1528 3055M556 3435L552 3489M957 3137L978 3120M873 3256L860 3229M897 3440L875 3487M1388 3213L1336 3221M1057 3169L1039 3186M1243 3220L1207 3210M1375 3746L1422 3708M525 3055L473 3051M929 3292L966 3292M606 3686L593 3598M1090 3135L1078 3112M1053 3121L1078 3112M1589 3068L1659 3091M704 3782L677 3710M945 3078L923 3046M1205 3237L1215 3278M757 3779L803 3760M742 3623L667 3605M582 3521L637 3490M871 3099L886 3126M1257 3313L1275 3359M1438 3069L1395 3054M1206 3334L1218 3362M954 3248L909 3245M945 3511L925 3491M1375 3385L1361 3342M1791 3159L1800 3084M1205 3414L1229 3436M1543 3147L1502 3173M1106 3286L1146 3274M1101 3208L1121 3226M1114 3537L1097 3586M1299 3410L1332 3370M1573 3360L1514 3383M597 3039L525 3055M1100 3634L1056 3642M861 3296L832 3305M1687 3466L1689 3559M985 3481L952 3476M1096 3070L1121 3052M642 3031L604 2979M985 3481L982 3534M966 3216L938 3225M1278 3622L1294 3585M1063 3487L1095 3454M724 3017L781 3009M776 3497L808 3455M1189 3484L1150 3521M1733 3314L1771 3273M1510 3211L1467 3189M1272 3410L1236 3410M1009 3136L1035 3138M1373 3148L1368 3189M949 3113L945 3078M1172 3357L1183 3326M1124 3256L1149 3234M929 3443L952 3476M1457 3651L1508 3718M1283 3786L1277 3739M1284 3063L1260 3037M1812 3677L1845 3597M1574 3405L1514 3383M1375 3385L1354 3406M1745 3203L1676 3237M847 3265L861 3296M632 3632L593 3598M975 3092L1014 3095M742 3176L732 3225M945 3511L985 3481M1355 2970L1394 2943M1186 3251L1168 3266M906 3218L938 3225M1398 3654L1457 3651M949 3310L980 3338M1004 3514L1041 3523M1261 3107L1295 3129M637 3375L603 3421M1791 3159L1864 3169M1009 3290L966 3292M1589 3068L1577 2988M1011 3017L1005 3057M897 3440L888 3403M694 3446L728 3432M860 3229L873 3203M982 3534L1004 3514M1729 3834L1640 3821M1225 3189L1188 3171M1680 3038L1754 3032M1543 3147L1508 3122M651 3408L603 3421M962 3639L1008 3660M1192 3295L1161 3311M1508 3122L1481 3092M821 3421L808 3455M604 2979L555 2978M1670 3389L1705 3357M1158 3028L1151 2991M651 3408L710 3402M1076 3681L1056 3642M1205 3414L1205 3443M1095 3162L1057 3169M597 3039L604 2979M1675 3681L1731 3666M1083 3306L1107 3313M1218 3362L1213 3392M1209 3106L1188 3083M1158 3028L1200 3046M897 3175L873 3153M1057 3169L1035 3138M962 2990L998 2975M818 3264L833 3235M1473 3351L1434 3312M912 3310L929 3292M1257 3313L1228 3341M1212 3164L1225 3189M1374 3524L1371 3491M945 3558L900 3580M1465 3606L1488 3559M998 2975L1011 3017M1235 3384L1218 3362M704 3782L632 3786M440 3479L514 3463M1394 3324L1361 3342M1332 3067L1367 3075M923 3046L922 3093M768 3240L740 3270M1583 3784L1640 3821M1212 3164L1190 3126M1638 3497L1575 3461M1256 3152L1225 3189M1002 3612L1008 3660M849 3326L860 3355M1160 3169L1163 3135M847 3265L833 3235M1188 3083L1190 3126M1114 3537L1100 3501M1577 2988L1504 2956M666 3245L660 3206M1330 3553L1368 3566M1124 3256L1146 3274M1596 3265L1575 3302M1508 3718L1422 3708M1011 3017L1030 2986M537 3633L593 3598M1241 3274L1215 3278M1361 3884L1391 3820M854 3028L817 3019M1866 3064L1800 3084M1683 3764L1640 3821M730 3668L742 3623M1243 3220L1225 3189M1167 3707L1120 3678M1209 3106L1237 3131M489 3098L563 3093M1121 2968L1151 2991M438 3534L507 3516M1272 3410L1258 3436M1192 3380L1218 3362M1167 3707L1208 3747M1508 3718L1522 3668M1014 3095L1009 3136M742 3623L781 3635M1418 3254L1438 3214M1392 3412L1354 3406M619 3890L572 3814M901 3509L925 3491M1325 3264L1378 3278M637 2920L604 2979M1457 3134L1481 3092M1188 3083L1220 3071M1299 3376L1299 3410M1705 3357L1684 3281M971 3267L946 3271M757 3408L770 3450M721 3125L735 3068M1197 3802L1125 3784M1336 3221L1302 3229M1198 3593L1148 3560M1302 3333L1340 3322M525 3055L563 3093M1075 3423L1041 3406M1161 3311L1168 3266M769 3585L799 3554M1441 3447L1392 3412M1392 3412L1375 3385M927 3693L852 3680M917 3269L929 3292M1267 3546L1294 3585M603 3421L595 3477M1078 3112L1058 3145M954 3248L946 3271M1375 3746L1327 3760M1100 3634L1097 3586M920 3757L986 3786M728 3719L677 3710M563 3093L614 3134M873 3153L842 3152M1252 3346L1275 3359M954 3248L971 3267M917 3269L909 3245M1734 3905L1729 3834M871 3731L880 3787M1500 3005L1528 3055M1606 3221L1676 3237M875 3487L901 3509M968 3033L936 3016M1190 3126L1188 3171M666 3285L642 3336M1573 3360L1536 3350M949 3310L966 3292M790 3123L812 3163M632 3263L633 3302M550 3364L600 3375M1596 3265L1642 3265M667 3605L690 3572M1438 3069L1475 3055M1208 3747L1247 3692M1141 3491L1189 3484M1063 3487L1028 3494M597 3170L614 3134M949 3310L981 3313M1100 3634L1120 3678M805 3241L768 3240M1076 3367L1118 3360M1138 3611L1097 3586M1101 3208L1065 3196M789 2964L803 2918M455 2942L498 2981M1299 3376L1260 3385M726 3332L745 3363M834 3622L808 3589M1571 3646L1619 3699M1429 3570L1411 3536M1145 3645L1174 3624M1800 3084L1864 3169M1090 3135L1118 3153M1555 3572L1595 3602M496 2902L555 2978M1267 3188L1307 3196M1641 3618L1675 3681M1574 3405L1624 3363M1075 3423L1077 3399M1065 3196L1039 3186M1438 3214L1388 3213M1180 3449L1189 3484M1299 3376L1272 3410M1371 3491L1332 3517M814 3290L813 3330M1151 3110L1117 3108M1115 3410L1120 3383M1002 3612L962 3639M1257 3504L1292 3518M873 3256L885 3278M840 3482L808 3455M790 3123L842 3152M1440 3779L1422 3708M1125 3784L1163 3756M1638 3497L1640 3557M1095 3162L1108 3182M1087 3271L1106 3286M1276 3216L1307 3196M910 3359L906 3333M1473 3351L1476 3314M489 3098L506 3151M724 3466L694 3446M1027 3426L1009 3447M1063 3487L1076 3535M1256 3152L1303 3158M632 3632L677 3710M721 3125L754 3107M1115 3410L1119 3435M1212 3164L1188 3171M642 3031L686 3041M582 3521L593 3598M1676 3237L1642 3265M1318 3709L1277 3739M1324 3480L1371 3491M789 2964L781 3009M1841 3878L1729 3834M1236 3589L1213 3538M658 3081L697 3090M1687 3466L1629 3419M1374 3524L1332 3517M818 3517L854 3516M519 3584L537 3633M1275 3359L1260 3385M1407 2993L1452 2950M1088 3231L1062 3255M1441 3447L1427 3499M1327 3760L1318 3709M938 3335L906 3333M1670 3389L1643 3311M1529 3478L1575 3461M897 3440L906 3465M1205 3414L1168 3420M1151 3110L1188 3083M1047 3232L1062 3255M753 3140L754 3107M498 2981L496 2902M968 3033L1011 3017M1017 3350L1055 3349M812 3716L815 3663M1768 3554L1742 3505M724 3466L770 3450M1366 3247L1336 3221M922 3093L918 3120M1302 3333L1332 3370M781 3009L817 3019M821 3421L798 3391M1125 3730L1163 3756M653 2979L604 2979M1148 3560L1097 3586M839 3202L873 3203M1477 3861L1391 3820M885 3230L873 3203M1158 3028L1121 3052M776 3690L812 3716M976 3390L957 3360M1670 3389L1629 3419M1274 3242L1243 3220M613 3088L563 3093M882 3372L910 3359M1727 3118L1674 3138M1292 3518L1332 3517M957 3360L983 3367M591 3288L633 3302M1642 3265L1684 3281M1209 3106L1249 3078M1076 3367L1077 3335M709 3527L670 3536M1457 3134L1419 3104M1075 3423L1119 3435M1352 3678L1318 3709M1161 3311L1183 3326M812 3163L849 3178M724 3017L653 2979M1295 3129L1303 3158M1241 3274L1261 3261M1252 3346L1235 3384M773 3075L801 3054M1167 3707L1247 3692M1560 3222L1592 3162M1227 3313L1215 3278M849 3326L832 3305M885 3305L873 3328M1158 3028L1160 3076M1302 3333L1275 3359M1063 3487L1041 3523M1208 3747L1283 3786M920 3757L975 3737M1453 3272L1463 3239M1130 3174L1118 3153M927 3693L910 3656M1589 3068L1620 3122M1130 3174L1157 3206M1267 3546L1236 3589M945 3511L952 3476M917 3269L946 3271M686 3041L697 3090M507 3516L552 3489M1009 3447L1040 3467M1017 3160L1009 3136M503 3252L493 3195M945 3511L982 3534M1296 3257L1300 3283M808 3455L770 3450M666 3285L633 3302M1125 3784L1080 3821M1470 3397L1437 3413M1240 3248L1241 3274M1733 3314L1705 3357M886 3126L857 3125M875 3487L840 3451M1659 3091L1620 3122M1142 3425L1115 3410M1395 3054L1367 3075M931 3831L1024 3828M1198 3593L1138 3611M1038 3254L1031 3298M920 3757L871 3731M1041 3555L1065 3579M1138 3611L1174 3624M582 3242L632 3263M1281 2915L1269 2973M1395 3054L1454 3020M1030 3210L1047 3232M507 3516L544 3545M1114 3537L1150 3521M1299 3410L1272 3410M1485 3264L1453 3272M587 3327L633 3302M1675 3681L1739 3611M1076 3367L1105 3340M1522 3668L1523 3613M1510 3211L1521 3277M1257 3504L1277 3457M1485 3264L1521 3277M1127 3201L1130 3174M1257 3504L1213 3538M1142 3425L1164 3393M1343 2892L1355 2970M1004 3222L1038 3254M724 3017L686 3041M1096 3070L1068 3062M1739 3611L1731 3666M1330 3553L1294 3585M1864 3169L1796 3211M1009 3136L981 3144M1438 3214L1463 3239M642 3031L658 3081M1341 3171L1373 3148M1229 3436L1205 3443M963 3452L1009 3447M776 3690L803 3760M1168 3420L1164 3393M985 3481L1004 3514M1352 3678L1422 3708M1007 3372L1017 3350M1017 3160L1057 3169M1575 3461L1526 3427M807 3358L813 3330M1336 3817L1327 3760M1760 3755L1729 3834M849 3326L873 3328M1470 3397L1425 3345M773 3344L813 3330M1500 3005L1475 3055M1227 3313L1228 3341M818 3517L837 3551M1189 3484L1205 3443M1310 2956L1269 2973M837 3396L865 3436M1269 2973L1233 2913M949 3113L957 3137M637 3490L684 3489M1229 3436L1232 3468M584 3749L550 3696M1889 3220L1796 3211M591 3288L587 3327M1087 3271L1083 3306M670 3536L632 3557M1177 3534L1150 3521M1413 3385L1437 3413M1606 3221L1560 3222M1040 3375L1017 3350M962 2990L939 2957M1076 3022L1121 3052M938 3225L949 3201M584 3749L572 3814M875 3487L854 3516M1324 3480L1332 3517M1066 2954L1030 2986M1145 3645L1138 3611M927 3693L975 3737M917 3269L912 3310M817 3831L869 3901M1009 3290L993 3252M1117 3108L1133 3132M1117 3469L1095 3454M945 3511L918 3541M1452 2950L1454 3020M1189 3484L1232 3468M1470 3397L1413 3385M1574 3405L1526 3427M906 3218L909 3245M724 3466L684 3489M1473 3351L1518 3317M1046 3087L1068 3062M1163 3135L1188 3171M922 3093L886 3126M1046 3087L1053 3121M1342 3609L1391 3595M807 3358L798 3391M1000 3327L1031 3298M835 3062L871 3099M1413 3170L1388 3213M1641 3618L1619 3699M873 3153L903 3148M1128 3338L1118 3360M1117 3469L1141 3491M852 3680L815 3663M1096 3070L1117 3108M690 3325L676 3383M582 3242L538 3231M1040 3375L1016 3404M1212 3648L1179 3668M1304 3000L1358 3019M1845 3597L1920 3648M1274 3242L1240 3248M1121 3226L1149 3234M1056 3642L1024 3698M745 3363L773 3344M911 2981L847 2990M920 3757L927 3693M558 3142L563 3093M852 3680L910 3656M1274 3242L1296 3257M1000 3327L1041 3321M1742 3505L1689 3559M1047 3034L1030 2986M1017 3350L983 3367M1000 3327L1017 3350M1252 3346L1260 3385M1477 3861L1516 3783M1310 3449L1289 3486M1125 3730L1125 3784M1413 3385L1425 3345M818 3517L808 3455M885 3305L912 3310M1101 3208L1088 3231M742 3176L781 3156M1183 3326L1152 3339M1189 3484L1155 3454M1453 3272L1434 3312M1235 3384L1213 3392M1745 3203L1712 3168M1000 3327L980 3338M474 3719L550 3696M1016 3404L1041 3406M1887 2963L1813 2994M842 3152L849 3178M708 3363L676 3383M724 3466L737 3500M1336 3817L1375 3746M1209 3106L1261 3107M1095 3162L1058 3145M776 3497L770 3450M1096 3070L1078 3112M1076 3535L1097 3586M962 3639L910 3656M660 3206L669 3161M1130 3174L1160 3169M1440 3779L1375 3746M818 3517L768 3535M1277 3457L1232 3468M1814 2935L1756 2974M1267 3188L1243 3220M506 3151L452 3168M1727 3118L1754 3032M1573 3360L1575 3302M632 3557L690 3572M1342 3609L1368 3566M1438 3069L1454 3020M1125 3730L1076 3681M1076 3022L1096 3070M1771 3273L1725 3253M660 3206L697 3217M885 3230L873 3256M519 3584L438 3534M597 3039L613 3088M963 3452L952 3476M1232 3468L1258 3436M1643 3311L1624 3363M700 3184L660 3206M803 3760L812 3716M1240 3248L1205 3237M1438 3069L1481 3092M953 3395L922 3403M1475 3055L1454 3020M653 2979L686 3041M632 3632L667 3605M1419 3104L1413 3170M776 3690L781 3635M1814 3808L1901 3838M1198 3593L1213 3538M980 3338L1017 3350M637 3375L642 3336M1128 3338L1152 3339M945 3511L945 3558M735 3068L754 3107M1304 3000L1313 3038M1332 3370L1375 3385M1475 3055L1481 3092M1192 3380L1213 3392M826 3102L871 3099M880 3553L901 3509M519 3584L507 3516M651 3408L637 3375M1319 3301L1300 3283M1176 3191L1207 3210M632 3263L666 3245" fill="none" stroke-width="2"/></g>
<polygon points="492.3,2957.2 730.8,2957.2 746.8,2986.7 719.8,2990.4 760.3,3060.5 767.7,3029.8 787.4,3035.9 788.6,3071.6 759.1,3065.4 735.7,3085.1 492.3,2999.0" fill="#5cb130" />
<polygon points="799.7,2957.2 848.9,2957.2 847.6,2995.3 819.3,2980.6" fill="#5cb130" />
<polygon points="490.0,2994.0 751.0,3090.0 751.0,3384.0 490.0,3286.0" fill="#2d4ea2" />
<polygon points="489.8,2993.4 568.5,3024.8 541.5,3043.3 521.8,3048.2 489.8,3048.2" fill="#8f2229" />
<polygon points="568.5,3024.8 751.7,3090.0 751.7,3149.0 735.7,3151.5 701.3,3112.1 662.0,3109.7 632.5,3087.5 605.4,3082.6 573.4,3074.0 541.5,3043.3" fill="#dc6f28" />
<polygon points="583.3,3040.8 605.4,3037.1 604.2,3072.8 573.4,3074.0" fill="#8f2229" />
<polygon points="573.4,3074.0 605.4,3082.6 607.9,3107.2 588.2,3087.5" fill="#59232f" />
<polygon points="489.8,3112.1 521.8,3081.4 542.7,3135.5 489.8,3129.3" fill="#59232f" />
<polygon points="614.0,3109.7 631.2,3088.8 662.0,3112.1" fill="#59232f" />
<polygon points="701.3,3117.0 725.9,3136.7 702.5,3147.8" fill="#59232f" />
<polygon points="733.3,3153.9 750.5,3162.5 733.3,3168.7" fill="#59232f" />
<polygon points="622.6,3045.7 638.6,3061.7 621.4,3063.0" fill="#2f9464" />
<polygon points="660.7,3055.6 679.2,3061.7 662.0,3076.5" fill="#2f9464" />
<polygon points="641.1,2960.2 664.4,2968.3 649.7,2974.4" fill="#3e419d" />
<polygon points="605.4,2984.3 622.6,2974.4 622.6,2991.6" fill="#3e419d" />
<polygon points="627.5,2991.6 639.8,2980.6 639.8,2996.6" fill="#3e419d" />
<polygon points="676.7,2992.9 693.9,2999.0 680.4,3015.0" fill="#3e419d" />
<polygon points="627.5,3040.8 642.3,3031.0 642.3,3047.0" fill="#3e419d" />
<polygon points="504.6,3183.4 546.4,3140.4 574.7,3144.1 578.4,3176.1 587.0,3182.2 572.2,3226.5 561.1,3259.9 489.8,3259.9 489.8,3185.9" fill="#6a3fa4" />
<polygon points="489.8,3200.0 573.4,3200.0 563.6,3234.4 529.2,3263.9 489.8,3267.6" fill="#6a3fa4" />
<polygon points="489.8,3210.5 519.3,3235.1 504.6,3259.9 489.8,3259.9" fill="#2d4ea2" />
<polygon points="588.2,3182.2 612.8,3217.9 572.2,3226.5" fill="#44622c" />
<polygon points="617.7,3181.0 632.5,3178.5 627.5,3190.8 612.8,3188.4" fill="#6a3fa4" />
<polygon points="605.4,3230.2 625.1,3227.7 627.5,3242.5 612.8,3244.9" fill="#6a3fa4" />
<polygon points="595.6,3295.9 617.7,3276.2 649.7,3263.9 657.0,3276.2 696.4,3283.6 725.9,3273.8 722.2,3303.3 696.4,3315.6 652.1,3310.7 637.4,3320.5 617.7,3308.2 595.6,3300.8" fill="#6a3fa4" />
<polygon points="545.2,3279.9 568.5,3266.4 568.5,3286.1" fill="#6a3fa4" />
<polygon points="664.4,3323.0 689.0,3315.6 706.2,3337.7 684.1,3347.5" fill="#6a3fa4" />
<polygon points="585.7,3320.5 593.1,3305.7 601.7,3323.0" fill="#d4272b" />
<polygon points="698.9,3241.8 725.9,3251.6 706.2,3278.7" fill="#59232f" />
<polygon points="691.5,3315.6 708.7,3313.1 703.8,3337.7" fill="#59232f" />
<polygon points="701.3,3194.5 728.4,3190.8 748.0,3200.7 748.0,3259.9 725.9,3259.9 703.8,3235.1 725.9,3217.9" fill="#8f2229" />
<polygon points="703.8,3193.3 735.7,3168.7 751.7,3167.5 750.5,3198.2 728.4,3190.8" fill="#dc6f28" />
<polygon points="725.9,3200.0 748.0,3200.0 748.0,3337.7 727.1,3318.0 728.4,3251.6 722.2,3232.0 701.3,3224.6" fill="#8f2229" />
<polygon points="727.1,3298.4 745.6,3293.4 745.6,3308.2 727.1,3318.0" fill="#dc6f28" />
<polygon points="735.7,3357.4 748.0,3347.5 748.0,3367.2" fill="#dc6f28" />
<polygon points="708.7,3337.7 723.4,3340.2 716.1,3350.0" fill="#dc6f28" />
<polygon points="681.6,3386.9 750.5,3383.2 750.5,3522.1 681.6,3522.1" fill="#3e419d" />
<polygon points="489.8,3284.8 730.8,3375.8 729.6,3383.2 700.1,3398.0 695.2,3417.6 685.3,3431.1 684.1,3448.4 666.9,3449.6 676.7,3470.5 691.5,3473.0 693.9,3480.3 684.1,3502.5 684.1,3519.9 684.9,3523.4 635.7,3529.6 643.9,3564.4 598.9,3576.7 512.8,3591.1 516.9,3556.2 504.6,3523.4 521.0,3470.2 488.2,3453.8" fill="#c8d233" />
<polygon points="730.8,3375.8 749.3,3382.0 745.6,3404.1 746.8,3416.4 735.7,3443.4 722.2,3465.6 733.3,3490.2 725.9,3519.9 734.1,3494.8 703.4,3523.4 730.0,3560.3 684.9,3617.7 684.9,3556.2 643.9,3566.5 635.7,3529.6 684.9,3523.4 684.1,3519.9 684.1,3502.5 693.9,3480.3 691.5,3473.0 684.1,3458.2 684.1,3448.4 685.3,3431.1 695.2,3417.6 700.1,3398.0 729.6,3383.2" fill="#3e419d" />
<polygon points="615.2,3668.9 648.0,3683.3 619.3,3720.2" fill="#3e419d" />
<polygon points="666.9,3449.6 684.1,3458.2 676.7,3470.5" fill="#3e419d" />
<polygon points="750.5,3091.6 922.6,3157.2 920.6,3175.7 941.1,3161.3 959.5,3136.7 996.4,3134.7 1004.6,3157.2 1033.3,3171.6 1016.9,3185.9 1094.8,3210.5 1113.2,3243.3 1119.3,3267.9 1135.7,3333.4 1131.6,3353.9 1113.2,3366.2 1086.6,3339.6 1029.2,3321.1 1012.8,3327.3 1008.7,3317.0 861.1,3321.1 840.7,3300.7 820.2,3251.5 783.3,3218.7 766.9,3202.3 750.5,3206.4" fill="#5cb130" />
<polygon points="748.4,3185.9 799.7,3202.3 799.7,3235.1 748.4,3235.1" fill="#5cb130" />
<polygon points="750.0,3200.0 900.0,3200.0 900.0,3422.0 750.0,3422.0" fill="#5cb130" />
<polygon points="751.7,3166.2 772.6,3173.6 765.2,3206.8 751.7,3200.7" fill="#d4272b" />
<polygon points="748.0,3217.9 787.4,3213.0 782.5,3225.2 821.8,3242.5 819.3,3261.5 856.2,3320.5 859.9,3405.3 834.1,3404.1 814.4,3396.7 812.0,3389.3 821.8,3379.5 799.7,3362.3 802.1,3354.9 777.5,3353.7 776.3,3369.7 760.3,3364.8 750.5,3377.0 747.5,3372.1" fill="#d4272b" />
<polygon points="748.0,3204.9 765.2,3209.8 749.3,3217.2" fill="#5cb130" />
<polygon points="746.8,3256.6 757.9,3263.9 746.8,3271.3" fill="#5cb130" />
<polygon points="745.6,3293.4 760.3,3295.9 746.8,3308.2" fill="#5cb130" />
<polygon points="829.2,3343.9 836.6,3338.9 843.9,3347.5 831.6,3348.8" fill="#5bc0c6" />
<polygon points="750.5,3366.0 760.3,3362.3 756.6,3372.1" fill="#5bc0c6" />
<polygon points="958.4,3145.2 1003.9,3137.8 1012.5,3166.1 1034.6,3177.1 1014.9,3188.2 1105.9,3220.2 1125.6,3257.0 1128.0,3276.7 1137.9,3340.7 1115.7,3357.9 1088.7,3348.0 1032.1,3322.2 1022.3,3296.4 1012.5,3274.3 1010.0,3225.1 997.7,3195.6 990.3,3162.4 978.0,3158.7" fill="#5cb130" />
<polygon points="947.3,3121.8 965.7,3121.8 976.8,3135.3 958.4,3145.2 978.0,3158.7 990.3,3162.4 997.7,3195.6 1010.0,3225.1 1012.5,3274.3 1022.3,3296.4 1029.7,3322.2 1017.4,3323.4 1002.6,3306.2 992.8,3284.1 994.0,3255.8 970.7,3269.3 970.7,3239.8 946.1,3225.1 944.8,3195.6 938.7,3163.6 955.9,3166.1 957.1,3148.9" fill="#d4272b" />
<polygon points="944.8,3225.1 968.2,3236.1 943.6,3252.1" fill="#e0d2ac" />
<polygon points="921.5,3153.8 938.7,3163.6 920.2,3174.7" fill="#e0d2ac" />
<polygon points="989.1,3287.8 1012.5,3275.5 1002.6,3303.8" fill="#5bc0c6" />
<polygon points="1002.6,3307.5 1023.5,3301.3 1013.7,3323.4" fill="#5bc0c6" />
<polygon points="970.7,3269.3 994.0,3255.8 987.9,3284.1" fill="#3e419d" />
<polygon points="860.0,3210.3 880.9,3204.2 874.8,3227.5" fill="#3e419d" />
<polygon points="874.8,3227.5 896.9,3222.6 892.0,3247.2" fill="#3e419d" />
<polygon points="860.0,3237.4 872.3,3231.2 878.4,3252.1" fill="#3e419d" />
<polygon points="874.8,3252.1 894.4,3249.7 896.9,3269.3" fill="#3e419d" />
<polygon points="864.9,3274.3 884.6,3269.3 879.7,3284.1" fill="#3e419d" />
<polygon points="887.0,3286.6 905.5,3285.3 896.9,3302.5" fill="#3e419d" />
<polygon points="909.2,3293.9 926.4,3279.2 927.6,3296.4" fill="#3e419d" />
<polygon points="755.4,3107.2 771.4,3098.6 765.2,3114.6" fill="#3e419d" />
<polygon points="755.4,3129.3 768.9,3119.5 773.9,3135.5" fill="#3e419d" />
<polygon points="816.9,3182.2 834.1,3174.8 836.6,3194.5" fill="#3e419d" />
<polygon points="834.1,3173.6 841.5,3165.0 846.4,3176.1" fill="#3e419d" />
<polygon points="856.2,3211.7 880.8,3203.1 875.9,3225.2" fill="#3e419d" />
<polygon points="851.3,3237.5 873.4,3230.2 871.0,3249.8" fill="#3e419d" />
<polygon points="883.3,3227.7 898.0,3222.8 900.0,3242.5" fill="#3e419d" />
<polygon points="746.4,3404.6 766.9,3392.3 787.4,3425.1 795.6,3400.5 807.9,3404.6 820.2,3392.3 857.0,3418.9 988.2,3418.9 988.2,3462.0 1008.7,3515.2 996.4,3535.7 1016.9,3560.3 1031.2,3603.4 1066.1,3584.9 1070.2,3621.8 1107.0,3675.1 1107.0,3716.1 1135.7,3773.4 1143.9,3806.2 1123.4,3830.8 1094.8,3843.1 914.4,3843.1 873.4,3785.7 840.7,3718.1 799.7,3740.7 799.7,3798.0 848.9,3798.0 848.9,3843.1 832.5,3843.1 803.8,3802.1 787.4,3843.1 762.8,3843.1 746.4,3816.5 730.0,3843.1 701.3,3843.1 697.2,3785.7 664.4,3740.7 648.0,3683.3 615.2,3668.9 541.5,3639.0 586.6,3625.1 598.9,3576.7 643.9,3564.4 684.9,3556.2 684.9,3617.7 730.0,3560.3 703.4,3523.4 734.1,3494.8 725.9,3453.8" fill="#5cb130" />
<polygon points="749.3,3382.0 760.3,3364.8 776.3,3369.7 799.7,3375.8 814.4,3396.7 834.1,3404.1 859.9,3405.3 859.9,3421.3 750.5,3421.3" fill="#5cb130" />
<polygon points="782.5,3377.0 812.0,3389.3 814.4,3404.1 799.7,3396.7" fill="#d4272b" />
<polygon points="776.3,3354.9 799.7,3353.7 802.1,3372.1 777.5,3369.7" fill="#5cb130" />
<polygon points="787.4,3517.3 803.8,3521.4 787.4,3533.7" fill="#e0d2ac" />
<polygon points="767.7,3409.0 775.1,3396.7 781.2,3407.8" fill="#e0d2ac" />
<polygon points="783.7,3411.5 789.8,3400.4 792.3,3413.9 787.4,3426.2" fill="#e0d2ac" />
<polygon points="855.1,3416.9 986.6,3416.9 986.6,3466.1 968.2,3446.4 958.4,3473.4 946.1,3461.1 933.8,3468.5 926.4,3453.8 904.3,3471.0 896.9,3495.6 884.6,3480.8 867.4,3503.0 855.1,3507.9" fill="#3e419d" />
<polygon points="871.1,3303.8 887.0,3286.6 896.9,3302.5 909.2,3293.9 919.0,3305.0 927.6,3296.4 936.2,3306.2 944.8,3289.0 955.9,3306.2 968.2,3293.9 978.0,3306.2 1002.6,3306.2 1013.7,3329.6 877.2,3327.1" fill="#3e419d" />
<polygon points="824.3,3505.0 840.7,3511.1 828.4,3523.4" fill="#3e419d" />
<polygon points="801.7,3537.8 812.0,3537.8 805.8,3552.1" fill="#3e419d" />
<polygon points="844.8,3533.7 861.1,3541.9 850.9,3554.2" fill="#3e419d" />
<polygon points="850.9,3560.3 865.2,3560.3 853.0,3582.9" fill="#3e419d" />
<polygon points="666.5,3449.7 680.8,3453.8 676.7,3470.2" fill="#3e419d" />
<polygon points="828.4,3429.2 848.9,3425.1 840.7,3445.6" fill="#3e419d" />
<polygon points="840.7,3462.0 865.2,3457.9 861.1,3482.5" fill="#3e419d" />
<polygon points="844.8,3486.6 869.3,3482.5 865.2,3503.0" fill="#3e419d" />
<polygon points="864.9,3453.8 877.2,3443.9 889.5,3461.1 874.8,3473.4" fill="#5cb130" />
<polygon points="986.6,3419.3 1028.4,3421.8 1028.4,3372.6 1113.3,3372.6 1113.3,3397.2 1091.1,3404.6 1099.8,3439.0 1086.2,3451.3 1087.5,3490.7 1076.4,3507.9 1088.7,3527.5 1105.9,3552.1 1125.6,3596.4 1147.7,3633.3 1172.3,3648.0 1176.0,3675.1 1152.6,3687.4 1162.5,3699.9 1105.9,3699.9 1102.2,3675.1 1069.0,3623.4 1065.3,3601.3 1069.0,3584.1 1029.7,3602.5 1019.8,3581.6 1018.6,3549.7 996.5,3537.4 1024.8,3514.0 1005.1,3503.0 1005.1,3478.4 986.6,3466.1" fill="#d4272b" />
<polygon points="1029.7,3322.2 1085.0,3346.8 1089.9,3370.2 1113.3,3360.3 1113.3,3399.9 1029.7,3399.9" fill="#d4272b" />
<polygon points="1086.2,3353.0 1105.9,3361.6 1089.9,3370.2" fill="#5cb130" />
<polygon points="1113.3,3362.8 1135.4,3375.1 1133.0,3399.9 1115.7,3397.2" fill="#5cb130" />
<polygon points="1135.4,3375.1 1161.2,3399.9 1133.0,3399.9" fill="#d4272b" />
<polygon points="1035.8,3394.8 1049.3,3387.4 1051.8,3399.9" fill="#5bc0c6" />
<polygon points="1054.3,3386.1 1071.5,3383.7 1069.0,3397.2" fill="#5bc0c6" />
<polygon points="1082.5,3451.3 1099.8,3439.0 1091.1,3404.6 1113.3,3397.2 1118.2,3407.0 1137.9,3419.3 1162.5,3403.4 1179.7,3436.6 1209.2,3451.3 1214.1,3485.7 1237.5,3469.8 1241.1,3512.8 1180.0,3437.4 1208.7,3453.8 1210.7,3482.5 1237.4,3474.3 1237.4,3507.0 1303.0,3527.5 1315.2,3556.2 1372.6,3597.2 1393.1,3572.6 1405.4,3603.4 1438.2,3587.0 1466.9,3625.9 1548.9,3640.2 1585.7,3683.3 1589.8,3703.8 1608.3,3673.0 1624.7,3720.2 1643.1,3668.9 1692.3,3695.6 1725.1,3724.3 1731.2,3759.1 1770.2,3724.3 1803.0,3783.7 1809.1,3789.8 1180.0,3547.2 1238.7,3586.6 1236.2,3596.4 1214.1,3625.9 1211.6,3655.4 1194.4,3670.2 1199.3,3645.6 1187.0,3635.7 1179.7,3598.9 1160.0,3569.3 1137.9,3559.5 1130.5,3537.4 1115.7,3525.1 1102.2,3539.8 1088.7,3527.5 1076.4,3507.9 1087.5,3490.7 1086.2,3451.3" fill="#5cb130" />
<polygon points="1043.2,3451.3 1056.7,3439.0 1062.9,3453.8 1056.7,3464.8 1044.4,3473.4" fill="#5cb130" />
<polygon points="1066.6,3549.7 1088.7,3530.0 1083.8,3557.0" fill="#5cb130" />
<polygon points="987.9,3466.1 1012.5,3453.8 1002.6,3478.4" fill="#5cb130" />
<polygon points="1118.2,3407.0 1137.9,3419.3 1157.5,3397.2 1140.3,3372.6 1135.4,3394.8" fill="#d4272b" />
<polygon points="1113.3,3372.6 1134.2,3372.6 1133.0,3394.8 1118.2,3404.6" fill="#5cb130" />
<polygon points="1103.4,3441.5 1120.7,3439.0 1130.5,3461.1 1113.3,3488.2 1108.4,3463.6" fill="#d4272b" />
<polygon points="1137.9,3461.1 1142.8,3443.9 1158.8,3452.5" fill="#d4272b" />
<polygon points="1214.1,3485.7 1237.5,3469.8 1211.6,3475.9" fill="#e0d2ac" />
<polygon points="1018.6,3549.7 1042.0,3566.9 1019.8,3579.2" fill="#b23bb0" />
<polygon points="1103.4,3633.3 1125.6,3601.3 1120.7,3640.7" fill="#b23bb0" />
<polygon points="1044.4,3569.3 1066.6,3581.6 1045.7,3591.5" fill="#5bc0c6" />
<polygon points="987.9,3419.3 1007.5,3419.3 1012.5,3446.4" fill="#5bc0c6" />
<polygon points="1032.1,3394.8 1051.8,3387.4 1050.6,3404.6" fill="#5bc0c6" />
<polygon points="1054.3,3386.1 1070.2,3384.9 1067.8,3397.2" fill="#5bc0c6" />
<polygon points="983.0,3475.9 1000.2,3480.8 980.5,3503.0" fill="#5bc0c6" />
<polygon points="1102.2,3675.1 1110.8,3682.5 1123.1,3699.9 1103.4,3699.9" fill="#5bc0c6" />
<polygon points="980.5,3503.0 1002.6,3488.2 1005.1,3503.0" fill="#3e419d" />
<polygon points="1007.5,3503.0 1024.8,3514.0 1005.1,3522.6" fill="#3e419d" />
<polygon points="994.0,3539.8 1017.4,3549.7 994.0,3564.4" fill="#3e419d" />
<polygon points="980.5,3510.3 997.7,3517.7 994.0,3537.4" fill="#3e419d" />
<polygon points="985.4,3510.3 1003.9,3505.4 1002.6,3520.2" fill="#5cb130" />
<polygon points="1175.2,3638.7 1193.7,3641.1 1196.1,3668.2 1212.1,3653.4 1214.6,3625.2 1212.1,3600.6 1187.5,3600.6 1187.5,3606.7 1180.2,3587.0 1158.0,3555.1 1236.7,3555.1 1236.7,3592.0 1235.5,3644.8 1256.4,3658.4 1278.5,3636.2 1279.8,3663.3 1256.4,3663.3 1231.8,3687.9 1253.9,3722.3 1288.4,3756.7 1322.8,3778.9 1343.7,3729.7 1362.1,3778.9 1381.8,3820.7 1394.1,3840.3 1226.9,3840.3 1204.8,3803.4 1212.1,3773.9 1217.0,3764.1 1187.5,3710.0 1175.2,3729.7 1153.1,3685.4 1175.2,3683.0" fill="#5cb130" />
<polygon points="1040.0,3555.1 1111.3,3555.1 1128.5,3601.8 1150.7,3631.3 1174.0,3638.7 1175.2,3683.0 1153.1,3685.4 1175.2,3729.7 1187.5,3710.0 1217.0,3764.1 1212.1,3773.9 1204.8,3803.4 1226.9,3840.3 1096.6,3840.3 1096.6,3803.4 1128.5,3830.5 1143.3,3796.1 1106.4,3717.4 1101.5,3675.6 1064.6,3619.0 1067.0,3584.6 1044.9,3594.4 1040.0,3596.9" fill="#d4272b" />
<polygon points="1102.7,3675.6 1126.1,3698.9 1106.4,3717.4" fill="#5bc0c6" />
<polygon points="1044.9,3567.4 1067.0,3583.4 1044.9,3592.0" fill="#5bc0c6" />
<polygon points="1103.9,3632.5 1126.1,3601.8 1121.1,3641.1" fill="#b23bb0" />
<polygon points="1187.5,3600.6 1212.1,3600.6 1214.6,3621.5 1187.5,3606.7" fill="#d4272b" />
<polygon points="1235.5,3601.8 1251.5,3606.7 1261.3,3584.6 1277.3,3633.8 1256.4,3658.4 1235.5,3644.8" fill="#d4272b" />
<polygon points="1282.2,3663.3 1297.0,3649.8 1300.7,3675.6" fill="#d4272b" />
<polygon points="1190.0,3705.1 1194.9,3673.1 1217.0,3707.5" fill="#d4272b" />
<polygon points="1217.0,3707.5 1234.3,3687.9 1253.9,3722.3 1225.7,3735.8" fill="#d4272b" />
<polygon points="1251.5,3840.3 1322.8,3780.1 1333.9,3825.6 1362.1,3778.9 1381.8,3820.7 1384.3,3830.5 1337.5,3828.0 1335.1,3840.3" fill="#d4272b" />
<polygon points="1236.7,3592.0 1256.4,3583.4 1251.5,3606.7 1238.0,3599.3" fill="#5cb130" />
<polygon points="1121.1,3831.7 1150.7,3835.4 1153.1,3840.3 1118.7,3840.3" fill="#5cb130" />
<polygon points="1103.0,3675.1 1125.5,3699.7 1107.0,3716.1" fill="#5bc0c6" />
<polygon points="1016.9,3560.3 1041.5,3568.5 1021.0,3580.8" fill="#b23bb0" />
<polygon points="1045.6,3568.5 1066.1,3584.9 1047.6,3593.1" fill="#5bc0c6" />
<polygon points="1103.0,3634.1 1125.5,3601.3 1121.4,3640.2" fill="#b23bb0" />
<polygon points="978.0,3482.5 998.4,3478.4 984.1,3498.9" fill="#5bc0c6" />
<polygon points="978.0,3507.0 1002.5,3503.0 1008.7,3515.2 996.4,3535.7" fill="#3e419d" />
<polygon points="992.3,3539.8 1016.9,3543.9 994.3,3564.4" fill="#3e419d" />
<polygon points="858.0,3327.0 1029.0,3325.0 1029.0,3419.0 857.0,3420.0" fill="#ffffff" />
</g>
<g clip-path="url(#cg)" style="mix-blend-mode:multiply"><g stroke="#e9e7e3"><use href="#msh"/></g></g>
<polygon points="858,3327 1029,3325 1029,3419 857,3420" fill="#fff"/>
<line x1="747.0" y1="3218.7" x2="1797.0" y2="3625.0" stroke="#151515" stroke-width="2.8"/>
<line x1="747.0" y1="3253.0" x2="1797.0" y2="3658.7" stroke="#151515" stroke-width="2.8"/>
<line x1="747.0" y1="3286.2" x2="1797.0" y2="3692.3" stroke="#151515" stroke-width="2.8"/>
<line x1="747.0" y1="3319.2" x2="1797.0" y2="3723.4" stroke="#151515" stroke-width="2.8"/>
<line x1="747.0" y1="3349.3" x2="1797.0" y2="3753.7" stroke="#151515" stroke-width="2.8"/>
<line x1="747.0" y1="3380.6" x2="1807.0" y2="3787.9" stroke="#151515" stroke-width="2.8"/>
<line x1="1716" y1="3831" x2="1716" y2="3478" stroke="#7a3e9c" stroke-width="2.4"/>
<polygon points="1716,3455 1708.2,3483 1723.8,3483" fill="#7a3e9c"/>
<text x="1786.5" y="3607.4" font-size="50" fill="#1a1a1a" text-anchor="start" >6</text>
<text x="1798.8" y="3660.7" font-size="50" fill="#1a1a1a" text-anchor="start" >5</text>
<text x="1800.8" y="3703.7" font-size="50" fill="#1a1a1a" text-anchor="start" >4</text>
<text x="1803.0" y="3744.7" font-size="50" fill="#1a1a1a" text-anchor="start" >3</text>
<text x="1800.8" y="3783.7" font-size="50" fill="#1a1a1a" text-anchor="start" >2</text>
<text x="1782.4" y="3826.7" font-size="50" fill="#1a1a1a" text-anchor="start" >1</text>
<text transform="translate(1156,3361) rotate(22.5)" font-size="52" letter-spacing="0.8" fill="#1a1a1a"><tspan font-style="italic">6</tspan> 条 <tspan font-style="italic">30</tspan> m 测线</text>
<text x="623.0" y="3159.0" font-size="50" fill="#ffffff" text-anchor="middle" >采</text>
<text x="623.0" y="3225.0" font-size="50" fill="#ffffff" text-anchor="middle" >空</text>
<text x="623.0" y="3291.0" font-size="50" fill="#ffffff" text-anchor="middle" >区</text>
<rect x="1885.4" y="2974.7" width="39.3" height="53.3" fill="#f3e3b4"/>
<text x="1948.0" y="3019.5" font-size="54.3" fill="#1a1a1a" text-anchor="start" >None</text>
<rect x="1885.4" y="3028" width="39.3" height="60.0" fill="#d8282b"/>
<text x="1948.0" y="3073.2" font-size="54.3" fill="#1a1a1a" text-anchor="start" >shear-n shear-p</text>
<rect x="1885.4" y="3088" width="39.3" height="62.0" fill="#5fc3c8"/>
<text x="1948.0" y="3126.8" font-size="54.3" fill="#1a1a1a" text-anchor="start" >shear-n shear-p tension-p</text>
<rect x="1885.4" y="3150" width="39.3" height="37.0" fill="#2c4fa6"/>
<text x="1948.0" y="3180.4" font-size="54.3" fill="#1a1a1a" text-anchor="start" >shear-n shear-p tension-p volume-n volume-p</text>
<rect x="1885.4" y="3187" width="39.3" height="41.0" fill="#a5232e"/>
<text x="1948.0" y="3234.1" font-size="54.3" fill="#1a1a1a" text-anchor="start" >shear-n shear-p tension-p volume-p</text>
<rect x="1885.4" y="3228" width="39.3" height="39.0" fill="#6a3ea2"/>
<text x="1948.0" y="3287.8" font-size="54.3" fill="#1a1a1a" text-anchor="start" >shear-n shear-p volume-n volume-p</text>
<rect x="1885.4" y="3267" width="39.3" height="63.4" fill="#46592b"/>
<text x="1948.0" y="3341.4" font-size="54.3" fill="#1a1a1a" text-anchor="start" >shear-n shear-p volume-p</text>
<rect x="1885.4" y="3330.4" width="39.3" height="56.3" fill="#50b02e"/>
<text x="1948.0" y="3395.1" font-size="54.3" fill="#1a1a1a" text-anchor="start" >shear-p</text>
<rect x="1885.4" y="3386.7" width="39.3" height="60.0" fill="#3e44a2"/>
<text x="1948.0" y="3448.7" font-size="54.3" fill="#1a1a1a" text-anchor="start" >shear-p tension-p</text>
<rect x="1885.4" y="3446.7" width="39.3" height="36.7" fill="#5a2230"/>
<text x="1948.0" y="3502.3" font-size="54.3" fill="#1a1a1a" text-anchor="start" >shear-p tension-p volume-n volume-p</text>
<rect x="1885.4" y="3483.4" width="39.3" height="56.6" fill="#e2702a"/>
<text x="1948.0" y="3556.0" font-size="54.3" fill="#1a1a1a" text-anchor="start" >shear-p tension-p volume-p</text>
<rect x="1885.4" y="3540" width="39.3" height="63.6" fill="#4a7862"/>
<text x="1948.0" y="3609.7" font-size="54.3" fill="#1a1a1a" text-anchor="start" >shear-p volume-n volume-p</text>
<rect x="1885.4" y="3603.6" width="39.3" height="56.4" fill="#3c9a5a"/>
<text x="1948.0" y="3663.3" font-size="54.3" fill="#1a1a1a" text-anchor="start" >shear-p volume-p</text>
<rect x="1885.4" y="3660" width="39.3" height="60.0" fill="#b23cb2"/>
<text x="1948.0" y="3716.9" font-size="54.3" fill="#1a1a1a" text-anchor="start" >tension-n shear-p tension-p</text>
<rect x="1885.4" y="3720" width="39.3" height="59.0" fill="#e0432a"/>
<text x="1948.0" y="3770.6" font-size="54.3" fill="#1a1a1a" text-anchor="start" >tension-n tension-p</text>
<rect x="1885.4" y="3779" width="39.3" height="61.5" fill="#dfe334"/>
<text x="1948.0" y="3824.2" font-size="54.3" fill="#1a1a1a" text-anchor="start" >tension-p</text>
<rect x="1885.4" y="2974.7" width="4.5" height="865.8" fill="#9a9a9a" fill-opacity="0.55"/>
<rect x="1920.2" y="2974.7" width="4.5" height="865.8" fill="#9a9a9a" fill-opacity="0.55"/>
<text x="1715.0" y="3909.0" font-size="54.3" fill="#1a1a1a" text-anchor="middle" >红线正/负值分别表示向上/下的位移；蓝线正/负值分别表示向右/左的位移</text>
<text x="1716.0" y="3978.0" font-size="54.3" fill="#1a1a1a" text-anchor="middle" >(g) 竖直位移</text>
</svg></body></html>
